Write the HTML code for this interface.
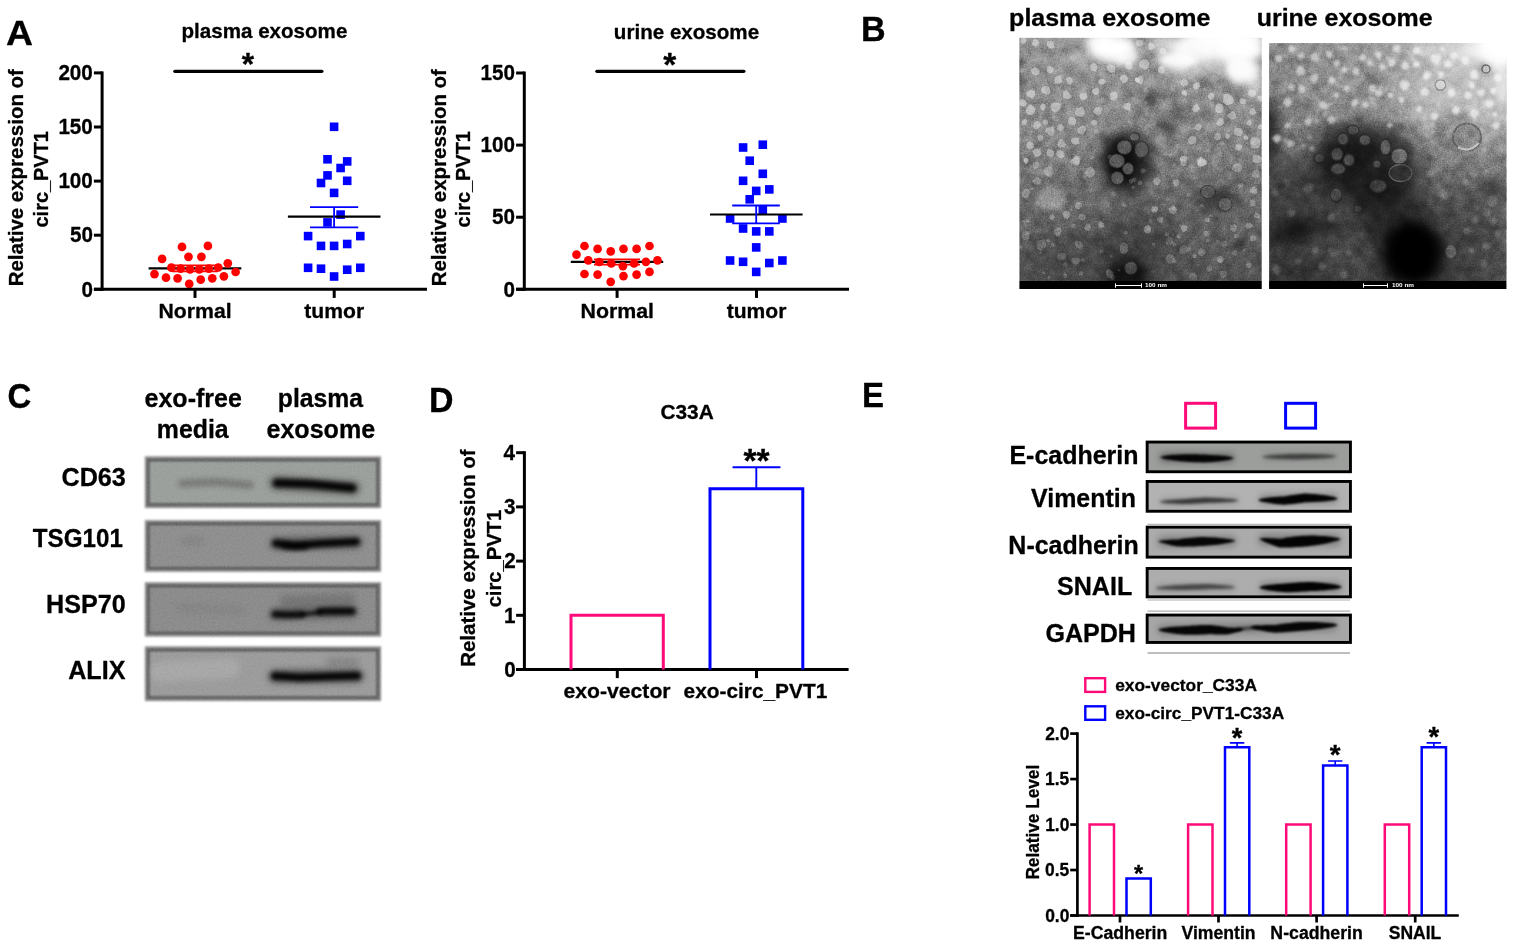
<!DOCTYPE html>
<html lang="en"><head><meta charset="utf-8"><title>Figure</title>
<style>
html,body{margin:0;padding:0;background:#fff;}
body{width:1515px;height:948px;overflow:hidden;position:relative;}
svg{position:absolute;left:0;top:0;display:block;font-family:'Liberation Sans', sans-serif;font-weight:bold;}
svg text{stroke-linejoin:round;}
</style></head><body>
<svg width="1515" height="948" viewBox="0 0 1515 948">
<defs>
<filter id="bl1" color-interpolation-filters="sRGB" x="-50%" y="-50%" width="200%" height="200%"><feGaussianBlur stdDeviation="0.55"/></filter>
<filter id="bl2" color-interpolation-filters="sRGB" x="-50%" y="-50%" width="200%" height="200%"><feGaussianBlur stdDeviation="2"/></filter>
<filter id="bl2.5" color-interpolation-filters="sRGB" x="-50%" y="-50%" width="200%" height="200%"><feGaussianBlur stdDeviation="2.5"/></filter>
<filter id="bl3" color-interpolation-filters="sRGB" x="-50%" y="-50%" width="200%" height="200%"><feGaussianBlur stdDeviation="3"/></filter>
<filter id="bl4" color-interpolation-filters="sRGB" x="-50%" y="-50%" width="200%" height="200%"><feGaussianBlur stdDeviation="4"/></filter>
<filter id="bl5" color-interpolation-filters="sRGB" x="-50%" y="-50%" width="200%" height="200%"><feGaussianBlur stdDeviation="5"/></filter>
<filter id="bl6" color-interpolation-filters="sRGB" x="-50%" y="-50%" width="200%" height="200%"><feGaussianBlur stdDeviation="6"/></filter>
<filter id="bl7" color-interpolation-filters="sRGB" x="-50%" y="-50%" width="200%" height="200%"><feGaussianBlur stdDeviation="7"/></filter>
<filter id="bl8" color-interpolation-filters="sRGB" x="-50%" y="-50%" width="200%" height="200%"><feGaussianBlur stdDeviation="8"/></filter>
<filter id="bl9" color-interpolation-filters="sRGB" x="-50%" y="-50%" width="200%" height="200%"><feGaussianBlur stdDeviation="9"/></filter>
<filter id="bl10" color-interpolation-filters="sRGB" x="-50%" y="-50%" width="200%" height="200%"><feGaussianBlur stdDeviation="10"/></filter>
<filter id="bl12" color-interpolation-filters="sRGB" x="-50%" y="-50%" width="200%" height="200%"><feGaussianBlur stdDeviation="12"/></filter>
<filter id="blU" color-interpolation-filters="sRGB" x="-5%" y="-5%" width="110%" height="110%"><feGaussianBlur stdDeviation="1.25"/></filter>
<filter id="noise" color-interpolation-filters="sRGB" x="0" y="0" width="100%" height="100%"><feTurbulence type="fractalNoise" baseFrequency="0.7" numOctaves="2" seed="3" result="t"/><feColorMatrix type="matrix" values="1 0 0 0 0  1 0 0 0 0  1 0 0 0 0  0 0 0 0 1"/></filter>
<filter id="noiseD" color-interpolation-filters="sRGB" x="0" y="0" width="100%" height="100%"><feTurbulence type="fractalNoise" baseFrequency="0.55" numOctaves="2" seed="8" result="t"/><feColorMatrix type="matrix" values="0 0 0 0 0  0 0 0 0 0  0 0 0 0 0  1.6 0 0 0 -0.6"/></filter>
<filter id="mott" color-interpolation-filters="sRGB" x="0" y="0" width="100%" height="100%"><feTurbulence type="fractalNoise" baseFrequency="0.09" numOctaves="3" seed="21"/><feColorMatrix type="matrix" values="1.2 0 0 0 -0.1  1.2 0 0 0 -0.1  1.2 0 0 0 -0.1  0 0 0 0 1"/></filter>
<filter id="noiseC" color-interpolation-filters="sRGB" x="0" y="0" width="100%" height="100%"><feTurbulence type="fractalNoise" baseFrequency="0.5" numOctaves="2" seed="5"/><feColorMatrix type="matrix" values="1 0 0 0 0  1 0 0 0 0  1 0 0 0 0  0 0 0 0 1"/></filter>
</defs>
<text x="6.12" y="45.20" font-size="35" textLength="26.95" lengthAdjust="spacingAndGlyphs" fill="#000" stroke="#000" stroke-width="0.3">A</text>
<text x="861.05" y="41.20" font-size="35" textLength="24.63" lengthAdjust="spacingAndGlyphs" fill="#000" stroke="#000" stroke-width="0.3">B</text>
<text x="7.43" y="407.50" font-size="35" textLength="23.82" lengthAdjust="spacingAndGlyphs" fill="#000" stroke="#000" stroke-width="0.3">C</text>
<text x="429.06" y="412.20" font-size="35" textLength="24.52" lengthAdjust="spacingAndGlyphs" fill="#000" stroke="#000" stroke-width="0.3">D</text>
<text x="862.12" y="407.00" font-size="35" textLength="22.03" lengthAdjust="spacingAndGlyphs" fill="#000" stroke="#000" stroke-width="0.3">E</text>
<line x1="148.6" y1="268.3" x2="241.3" y2="268.3" stroke="#000" stroke-width="2.2" stroke-linecap="butt"/>
<line x1="172" y1="265.3" x2="218" y2="265.3" stroke="#ff0000" stroke-width="1.8" stroke-linecap="butt"/>
<line x1="172" y1="271.3" x2="218" y2="271.3" stroke="#ff0000" stroke-width="1.8" stroke-linecap="butt"/>
<circle cx="182" cy="246.9" r="4.35" fill="#ff0000"/>
<circle cx="207.9" cy="245.9" r="4.35" fill="#ff0000"/>
<circle cx="162.1" cy="258.9" r="4.35" fill="#ff0000"/>
<circle cx="188.5" cy="256.8" r="4.35" fill="#ff0000"/>
<circle cx="201.4" cy="256.8" r="4.35" fill="#ff0000"/>
<circle cx="227.8" cy="263.3" r="4.35" fill="#ff0000"/>
<circle cx="171.4" cy="267.7" r="4.35" fill="#ff0000"/>
<circle cx="180.7" cy="268.6" r="4.35" fill="#ff0000"/>
<circle cx="190" cy="269.4" r="4.35" fill="#ff0000"/>
<circle cx="199.3" cy="269.4" r="4.35" fill="#ff0000"/>
<circle cx="208.8" cy="268.6" r="4.35" fill="#ff0000"/>
<circle cx="218.3" cy="267.5" r="4.35" fill="#ff0000"/>
<circle cx="235.6" cy="272" r="4.35" fill="#ff0000"/>
<circle cx="154.5" cy="274.1" r="4.35" fill="#ff0000"/>
<circle cx="166" cy="277.7" r="4.35" fill="#ff0000"/>
<circle cx="177.6" cy="278.3" r="4.35" fill="#ff0000"/>
<circle cx="189.2" cy="283.9" r="4.35" fill="#ff0000"/>
<circle cx="200.7" cy="279.7" r="4.35" fill="#ff0000"/>
<circle cx="212.3" cy="278.3" r="4.35" fill="#ff0000"/>
<circle cx="223.9" cy="276.3" r="4.35" fill="#ff0000"/>
<rect x="329.8" y="122.5" width="8.6" height="8.6" fill="#0000ff"/>
<rect x="323.2" y="155.0" width="8.6" height="8.6" fill="#0000ff"/>
<rect x="342.9" y="157.1" width="8.6" height="8.6" fill="#0000ff"/>
<rect x="336.3" y="163.7" width="8.6" height="8.6" fill="#0000ff"/>
<rect x="323.2" y="171.1" width="8.6" height="8.6" fill="#0000ff"/>
<rect x="316.7" y="178.7" width="8.6" height="8.6" fill="#0000ff"/>
<rect x="342.9" y="176.5" width="8.6" height="8.6" fill="#0000ff"/>
<rect x="329.8" y="188.6" width="8.6" height="8.6" fill="#0000ff"/>
<rect x="336.3" y="210.29999999999998" width="8.6" height="8.6" fill="#0000ff"/>
<rect x="323.2" y="218.1" width="8.6" height="8.6" fill="#0000ff"/>
<rect x="303.8" y="231.79999999999998" width="8.6" height="8.6" fill="#0000ff"/>
<rect x="356.0" y="231.79999999999998" width="8.6" height="8.6" fill="#0000ff"/>
<rect x="316.7" y="241.6" width="8.6" height="8.6" fill="#0000ff"/>
<rect x="329.8" y="241.6" width="8.6" height="8.6" fill="#0000ff"/>
<rect x="342.9" y="239.7" width="8.6" height="8.6" fill="#0000ff"/>
<rect x="303.8" y="263.5" width="8.6" height="8.6" fill="#0000ff"/>
<rect x="316.7" y="264.4" width="8.6" height="8.6" fill="#0000ff"/>
<rect x="329.8" y="272.2" width="8.6" height="8.6" fill="#0000ff"/>
<rect x="342.9" y="265.4" width="8.6" height="8.6" fill="#0000ff"/>
<rect x="356.0" y="263.5" width="8.6" height="8.6" fill="#0000ff"/>
<line x1="287.9" y1="216.7" x2="380.5" y2="216.7" stroke="#000" stroke-width="2.2" stroke-linecap="butt"/>
<line x1="310" y1="207.2" x2="358.2" y2="207.2" stroke="#0000ff" stroke-width="1.8" stroke-linecap="butt"/>
<line x1="310" y1="227.3" x2="358.2" y2="227.3" stroke="#0000ff" stroke-width="1.8" stroke-linecap="butt"/>
<line x1="334.1" y1="207.2" x2="334.1" y2="227.3" stroke="#0000ff" stroke-width="1.8" stroke-linecap="butt"/>
<line x1="102.1" y1="71.4" x2="102.1" y2="290.8" stroke="#000" stroke-width="3.0" stroke-linecap="butt"/>
<line x1="93.89999999999999" y1="289.3" x2="427" y2="289.3" stroke="#000" stroke-width="3.0" stroke-linecap="butt"/>
<line x1="93.89999999999999" y1="289.3" x2="102.1" y2="289.3" stroke="#000" stroke-width="3.0" stroke-linecap="butt"/>
<text x="81.40" y="296.56" font-size="22" textLength="11.50" lengthAdjust="spacingAndGlyphs" fill="#000" stroke="#000" stroke-width="0.3">0</text>
<line x1="93.89999999999999" y1="235.20000000000002" x2="102.1" y2="235.20000000000002" stroke="#000" stroke-width="3.0" stroke-linecap="butt"/>
<text x="69.92" y="242.46" font-size="22" textLength="23.00" lengthAdjust="spacingAndGlyphs" fill="#000" stroke="#000" stroke-width="0.3">50</text>
<line x1="93.89999999999999" y1="181.10000000000002" x2="102.1" y2="181.10000000000002" stroke="#000" stroke-width="3.0" stroke-linecap="butt"/>
<text x="58.39" y="188.36" font-size="22" textLength="34.50" lengthAdjust="spacingAndGlyphs" fill="#000" stroke="#000" stroke-width="0.3">100</text>
<line x1="93.89999999999999" y1="127.0" x2="102.1" y2="127.0" stroke="#000" stroke-width="3.0" stroke-linecap="butt"/>
<text x="58.39" y="134.26" font-size="22" textLength="34.50" lengthAdjust="spacingAndGlyphs" fill="#000" stroke="#000" stroke-width="0.3">150</text>
<line x1="93.89999999999999" y1="72.9" x2="102.1" y2="72.9" stroke="#000" stroke-width="3.0" stroke-linecap="butt"/>
<text x="58.39" y="80.16" font-size="22" textLength="34.50" lengthAdjust="spacingAndGlyphs" fill="#000" stroke="#000" stroke-width="0.3">200</text>
<line x1="195" y1="289.3" x2="195" y2="297.90000000000003" stroke="#000" stroke-width="3.0" stroke-linecap="butt"/>
<line x1="334.2" y1="289.3" x2="334.2" y2="297.90000000000003" stroke="#000" stroke-width="3.0" stroke-linecap="butt"/>
<text x="158.52" y="317.70" font-size="21" textLength="73.13" lengthAdjust="spacingAndGlyphs" fill="#000" stroke="#000" stroke-width="0.3">Normal</text>
<text x="304.29" y="317.70" font-size="21" textLength="59.84" lengthAdjust="spacingAndGlyphs" fill="#000" stroke="#000" stroke-width="0.3">tumor</text>
<text x="181.51" y="38.10" font-size="21" textLength="165.85" lengthAdjust="spacingAndGlyphs" fill="#000" stroke="#000" stroke-width="0.3">plasma exosome</text>
<text x="241.82" y="74.73" font-size="31.68" fill="#000" stroke="#000" stroke-width="0.3">*</text>
<line x1="174.79999999999998" y1="71.3" x2="321.9" y2="71.3" stroke="#000" stroke-width="3.2" stroke-linecap="round"/>
<text x="23.25" y="286.33" font-size="21" textLength="217.24" lengthAdjust="spacingAndGlyphs" fill="#000" stroke="#000" stroke-width="0.3" transform="rotate(-90 23.25 286.33)">Relative expression of</text>
<text x="47.95" y="227.45" font-size="21" textLength="96.38" lengthAdjust="spacingAndGlyphs" fill="#000" stroke="#000" stroke-width="0.3" transform="rotate(-90 47.95 227.45)">circ_PVT1</text>
<line x1="570.8" y1="261.8" x2="663.2" y2="261.8" stroke="#000" stroke-width="2.2" stroke-linecap="butt"/>
<line x1="594" y1="259.3" x2="640" y2="259.3" stroke="#ff0000" stroke-width="1.8" stroke-linecap="butt"/>
<line x1="594" y1="264.6" x2="640" y2="264.6" stroke="#ff0000" stroke-width="1.8" stroke-linecap="butt"/>
<circle cx="584.5" cy="246" r="4.35" fill="#ff0000"/>
<circle cx="576.5" cy="254.6" r="4.35" fill="#ff0000"/>
<circle cx="597.6" cy="248.9" r="4.35" fill="#ff0000"/>
<circle cx="610.7" cy="251.4" r="4.35" fill="#ff0000"/>
<circle cx="623.5" cy="248.9" r="4.35" fill="#ff0000"/>
<circle cx="636.6" cy="248.9" r="4.35" fill="#ff0000"/>
<circle cx="588.3" cy="260.3" r="4.35" fill="#ff0000"/>
<circle cx="599.3" cy="262" r="4.35" fill="#ff0000"/>
<circle cx="611.3" cy="263.5" r="4.35" fill="#ff0000"/>
<circle cx="622.9" cy="266.2" r="4.35" fill="#ff0000"/>
<circle cx="634.1" cy="263.5" r="4.35" fill="#ff0000"/>
<circle cx="584.5" cy="274" r="4.35" fill="#ff0000"/>
<circle cx="597.6" cy="274.6" r="4.35" fill="#ff0000"/>
<circle cx="610.7" cy="281.8" r="4.35" fill="#ff0000"/>
<circle cx="623.5" cy="276.1" r="4.35" fill="#ff0000"/>
<circle cx="636.6" cy="274.6" r="4.35" fill="#ff0000"/>
<circle cx="649.5" cy="246" r="4.35" fill="#ff0000"/>
<circle cx="645.9" cy="261.8" r="4.35" fill="#ff0000"/>
<circle cx="657.5" cy="260.3" r="4.35" fill="#ff0000"/>
<circle cx="649.5" cy="271.9" r="4.35" fill="#ff0000"/>
<rect x="738.8000000000001" y="143.2" width="8.6" height="8.6" fill="#0000ff"/>
<rect x="758.5" y="140.39999999999998" width="8.6" height="8.6" fill="#0000ff"/>
<rect x="745.4000000000001" y="156.39999999999998" width="8.6" height="8.6" fill="#0000ff"/>
<rect x="758.5" y="169.5" width="8.6" height="8.6" fill="#0000ff"/>
<rect x="738.8000000000001" y="176.5" width="8.6" height="8.6" fill="#0000ff"/>
<rect x="751.9000000000001" y="186.6" width="8.6" height="8.6" fill="#0000ff"/>
<rect x="765.0" y="185.1" width="8.6" height="8.6" fill="#0000ff"/>
<rect x="745.4000000000001" y="195.0" width="8.6" height="8.6" fill="#0000ff"/>
<rect x="758.5" y="205.6" width="8.6" height="8.6" fill="#0000ff"/>
<rect x="725.8000000000001" y="214.2" width="8.6" height="8.6" fill="#0000ff"/>
<rect x="778.1" y="214.2" width="8.6" height="8.6" fill="#0000ff"/>
<rect x="738.8000000000001" y="224.2" width="8.6" height="8.6" fill="#0000ff"/>
<rect x="751.9000000000001" y="227.1" width="8.6" height="8.6" fill="#0000ff"/>
<rect x="765.0" y="227.1" width="8.6" height="8.6" fill="#0000ff"/>
<rect x="751.9000000000001" y="243.1" width="8.6" height="8.6" fill="#0000ff"/>
<rect x="725.8000000000001" y="256.2" width="8.6" height="8.6" fill="#0000ff"/>
<rect x="738.8000000000001" y="257.5" width="8.6" height="8.6" fill="#0000ff"/>
<rect x="765.0" y="258.7" width="8.6" height="8.6" fill="#0000ff"/>
<rect x="778.1" y="256.2" width="8.6" height="8.6" fill="#0000ff"/>
<rect x="751.9000000000001" y="267.59999999999997" width="8.6" height="8.6" fill="#0000ff"/>
<line x1="710" y1="214.5" x2="802.6" y2="214.5" stroke="#000" stroke-width="2.2" stroke-linecap="butt"/>
<line x1="732.2" y1="205.5" x2="779.8" y2="205.5" stroke="#0000ff" stroke-width="1.8" stroke-linecap="butt"/>
<line x1="732.2" y1="223.4" x2="779.8" y2="223.4" stroke="#0000ff" stroke-width="1.8" stroke-linecap="butt"/>
<line x1="756.2" y1="205.5" x2="756.2" y2="223.4" stroke="#0000ff" stroke-width="1.8" stroke-linecap="butt"/>
<line x1="524.3" y1="71.5" x2="524.3" y2="290.8" stroke="#000" stroke-width="3.0" stroke-linecap="butt"/>
<line x1="516.0999999999999" y1="289.3" x2="849" y2="289.3" stroke="#000" stroke-width="3.0" stroke-linecap="butt"/>
<line x1="516.0999999999999" y1="289.3" x2="524.3" y2="289.3" stroke="#000" stroke-width="3.0" stroke-linecap="butt"/>
<text x="503.60" y="296.56" font-size="22" textLength="11.50" lengthAdjust="spacingAndGlyphs" fill="#000" stroke="#000" stroke-width="0.3">0</text>
<line x1="516.0999999999999" y1="217.2" x2="524.3" y2="217.2" stroke="#000" stroke-width="3.0" stroke-linecap="butt"/>
<text x="492.12" y="224.46" font-size="22" textLength="23.00" lengthAdjust="spacingAndGlyphs" fill="#000" stroke="#000" stroke-width="0.3">50</text>
<line x1="516.0999999999999" y1="145.1" x2="524.3" y2="145.1" stroke="#000" stroke-width="3.0" stroke-linecap="butt"/>
<text x="480.59" y="152.36" font-size="22" textLength="34.50" lengthAdjust="spacingAndGlyphs" fill="#000" stroke="#000" stroke-width="0.3">100</text>
<line x1="516.0999999999999" y1="72.99999999999997" x2="524.3" y2="72.99999999999997" stroke="#000" stroke-width="3.0" stroke-linecap="butt"/>
<text x="480.59" y="80.26" font-size="22" textLength="34.50" lengthAdjust="spacingAndGlyphs" fill="#000" stroke="#000" stroke-width="0.3">150</text>
<line x1="617.1" y1="289.3" x2="617.1" y2="297.90000000000003" stroke="#000" stroke-width="3.0" stroke-linecap="butt"/>
<line x1="756.5" y1="289.3" x2="756.5" y2="297.90000000000003" stroke="#000" stroke-width="3.0" stroke-linecap="butt"/>
<text x="580.51" y="317.70" font-size="21" textLength="73.54" lengthAdjust="spacingAndGlyphs" fill="#000" stroke="#000" stroke-width="0.3">Normal</text>
<text x="726.69" y="317.70" font-size="21" textLength="59.64" lengthAdjust="spacingAndGlyphs" fill="#000" stroke="#000" stroke-width="0.3">tumor</text>
<text x="613.86" y="38.50" font-size="21" textLength="145.27" lengthAdjust="spacingAndGlyphs" fill="#000" stroke="#000" stroke-width="0.3">urine exosome</text>
<text x="663.21" y="75.84" font-size="33.29" fill="#000" stroke="#000" stroke-width="0.3">*</text>
<line x1="596.9" y1="71.3" x2="743.9" y2="71.3" stroke="#000" stroke-width="3.2" stroke-linecap="round"/>
<text x="445.75" y="286.33" font-size="21" textLength="217.24" lengthAdjust="spacingAndGlyphs" fill="#000" stroke="#000" stroke-width="0.3" transform="rotate(-90 445.75 286.33)">Relative expression of</text>
<text x="470.25" y="227.45" font-size="21" textLength="96.38" lengthAdjust="spacingAndGlyphs" fill="#000" stroke="#000" stroke-width="0.3" transform="rotate(-90 470.25 227.45)">circ_PVT1</text>
<text x="1009.13" y="25.90" font-size="24" textLength="201.29" lengthAdjust="spacingAndGlyphs" fill="#000" stroke="#000" stroke-width="0.3">plasma exosome</text>
<text x="1256.79" y="25.90" font-size="24" textLength="175.79" lengthAdjust="spacingAndGlyphs" fill="#000" stroke="#000" stroke-width="0.3">urine exosome</text>
<defs><clipPath id="cpP"><rect x="1019.3" y="37.8" width="242.5" height="251.09999999999997"/></clipPath><linearGradient id="gP" x1="0" y1="0" x2="0" y2="1"><stop offset="0" stop-color="#949494"/><stop offset="0.35" stop-color="#878787"/><stop offset="0.6" stop-color="#6c6c6c"/><stop offset="1" stop-color="#4c4c4c"/></linearGradient></defs>
<g clip-path="url(#cpP)">
<rect x="1019.3" y="37.8" width="242.5" height="251.09999999999997" fill="url(#gP)"/>
<ellipse cx="1127" cy="162" rx="25" ry="31" fill="#000" opacity="0.72" filter="url(#bl7)"/>
<ellipse cx="1120" cy="160" rx="16" ry="22" fill="#000" opacity="0.6" filter="url(#bl5)"/>
<ellipse cx="1128" cy="277" rx="22" ry="20" fill="#000" opacity="0.75" filter="url(#bl7)"/>
<ellipse cx="1152" cy="100" rx="10" ry="9" fill="#000" opacity="0.35" filter="url(#bl4)"/>
<ellipse cx="1180" cy="112" rx="9" ry="8" fill="#000" opacity="0.35" filter="url(#bl4)"/>
<ellipse cx="1166" cy="127" rx="9" ry="8" fill="#000" opacity="0.4" filter="url(#bl4)"/>
<ellipse cx="1204" cy="80" rx="8" ry="7" fill="#000" opacity="0.3" filter="url(#bl3)"/>
<ellipse cx="1216" cy="199" rx="20" ry="13" fill="#000" opacity="0.4" filter="url(#bl5)"/>
<ellipse cx="1240" cy="243" rx="7" ry="5" fill="#000" opacity="0.35" filter="url(#bl3)"/>
<ellipse cx="1140" cy="240" rx="40" ry="30" fill="#000" opacity="0.25" filter="url(#bl12)"/>
<ellipse cx="1019" cy="75" rx="5" ry="20" fill="#000" opacity="0.3" filter="url(#bl3)"/>
<ellipse cx="1075" cy="255" rx="50" ry="25" fill="#000" opacity="0.15" filter="url(#bl10)"/>
<ellipse cx="1112" cy="48" rx="24" ry="14" fill="#fff" opacity="1" filter="url(#bl4)"/>
<ellipse cx="1100" cy="42" rx="14" ry="8" fill="#fff" opacity="0.8" filter="url(#bl3)"/>
<ellipse cx="1127" cy="58" rx="12" ry="8" fill="#fff" opacity="0.8" filter="url(#bl3)"/>
<ellipse cx="1080" cy="58" rx="10" ry="7" fill="#fff" opacity="0.35" filter="url(#bl3)"/>
<ellipse cx="1178" cy="60" rx="20" ry="9" fill="#fff" opacity="0.95" filter="url(#bl3)"/>
<ellipse cx="1205" cy="46" rx="30" ry="12" fill="#fff" opacity="0.9" filter="url(#bl4)"/>
<ellipse cx="1240" cy="48" rx="24" ry="14" fill="#fff" opacity="1" filter="url(#bl4)"/>
<ellipse cx="1240" cy="68" rx="16" ry="12" fill="#fff" opacity="0.95" filter="url(#bl3)"/>
<ellipse cx="1225" cy="40" rx="40" ry="6" fill="#fff" opacity="1" filter="url(#bl3)"/>
<ellipse cx="1215" cy="52" rx="45" ry="12" fill="#fff" opacity="0.7" filter="url(#bl5)"/>
<ellipse cx="1243" cy="75" rx="14" ry="10" fill="#fff" opacity="0.7" filter="url(#bl3)"/>
<ellipse cx="1170" cy="45" rx="20" ry="8" fill="#fff" opacity="0.6" filter="url(#bl4)"/>
<ellipse cx="1255" cy="80" rx="8" ry="18" fill="#fff" opacity="0.5" filter="url(#bl3)"/>
<ellipse cx="1195" cy="70" rx="30" ry="10" fill="#fff" opacity="0.4" filter="url(#bl5)"/>
<ellipse cx="1051.5" cy="198.5" rx="13" ry="11.5" fill="#fff" opacity="0.3" filter="url(#bl2.5)"/>
<g filter="url(#bl1)">
<path d="M1034.1 45.8 L1031.7 44.5 L1032.5 41.9 L1033.4 39.4 L1036.1 39.1 L1038.0 40.6 L1039.6 42.6 L1038.2 44.7 L1036.5 46.6Z" fill="#fff" opacity="0.42"/>
<path d="M1025.9 41.8 L1024.8 43.4 L1022.6 44.1 L1021.4 42.2 L1020.8 40.4 L1021.2 38.3 L1023.2 36.9 L1025.4 38.0 L1026.4 39.9Z" fill="#fff" opacity="0.42"/>
<path d="M1054.0 44.4 L1054.8 47.5 L1051.8 48.6 L1049.3 48.3 L1047.5 46.7 L1046.7 44.2 L1047.5 41.2 L1050.7 41.3 L1053.5 41.6Z" fill="#fff" opacity="0.42"/>
<path d="M1091.4 63.9 L1094.0 62.7 L1096.2 64.4 L1097.4 66.4 L1097.2 68.9 L1095.6 71.4 L1092.6 70.9 L1090.6 69.0 L1089.6 66.3Z" fill="#fff" opacity="0.42"/>
<path d="M1107.4 69.6 L1106.7 66.6 L1109.0 64.3 L1112.0 64.8 L1114.6 65.8 L1115.4 68.7 L1114.7 71.8 L1111.7 73.1 L1109.0 71.7Z" fill="#fff" opacity="0.42"/>
<path d="M1132.4 65.1 L1132.4 67.8 L1130.3 70.1 L1127.5 68.9 L1125.1 67.5 L1125.6 64.8 L1126.1 61.9 L1129.1 60.8 L1131.9 62.4Z" fill="#fff" opacity="0.42"/>
<path d="M1038.2 68.7 L1039.9 70.9 L1039.0 73.7 L1036.7 75.3 L1034.0 74.8 L1031.5 73.2 L1031.0 70.1 L1033.4 68.1 L1036.0 67.0Z" fill="#fff" opacity="0.42"/>
<path d="M1053.8 70.6 L1051.9 72.5 L1049.3 73.4 L1047.0 71.7 L1046.9 69.1 L1047.6 66.9 L1049.6 65.4 L1051.6 66.8 L1053.5 68.1Z" fill="#fff" opacity="0.42"/>
<path d="M1060.0 83.4 L1057.5 83.7 L1054.2 83.4 L1054.3 80.1 L1055.0 77.5 L1057.4 75.8 L1060.8 75.6 L1061.6 78.9 L1062.3 81.7Z" fill="#fff" opacity="0.42"/>
<path d="M1065.8 79.3 L1067.6 77.1 L1070.4 76.5 L1072.2 78.4 L1073.2 80.4 L1072.4 82.6 L1070.7 84.6 L1067.8 84.3 L1067.0 81.7Z" fill="#fff" opacity="0.42"/>
<path d="M1103.2 84.4 L1101.1 84.6 L1099.0 83.7 L1098.1 81.3 L1099.5 79.4 L1101.5 78.8 L1103.7 78.7 L1105.1 80.6 L1105.2 83.0Z" fill="#fff" opacity="0.42"/>
<path d="M1128.0 77.9 L1127.6 80.7 L1125.8 82.9 L1122.9 83.3 L1121.4 81.1 L1119.2 78.9 L1120.6 76.1 L1123.3 74.5 L1126.4 75.3Z" fill="#fff" opacity="0.42"/>
<path d="M1135.3 81.8 L1135.1 80.1 L1135.2 78.1 L1137.1 77.8 L1138.6 78.1 L1139.8 79.3 L1139.7 81.0 L1138.7 82.4 L1137.0 82.4Z" fill="#fff" opacity="0.42"/>
<path d="M1035.3 94.1 L1034.3 96.6 L1032.1 98.4 L1029.5 97.3 L1026.2 95.9 L1026.7 92.4 L1029.4 90.6 L1032.1 90.0 L1034.7 91.3Z" fill="#fff" opacity="0.42"/>
<path d="M1044.0 93.5 L1041.2 91.4 L1041.7 87.6 L1045.1 86.1 L1048.3 86.2 L1050.0 88.7 L1050.4 91.3 L1049.3 93.9 L1046.5 94.7Z" fill="#fff" opacity="0.42"/>
<path d="M1068.5 91.8 L1070.0 93.9 L1071.9 96.9 L1069.1 99.1 L1066.1 99.0 L1063.2 98.3 L1063.1 95.3 L1063.0 92.4 L1065.5 89.8Z" fill="#fff" opacity="0.42"/>
<path d="M1086.6 92.9 L1087.3 95.6 L1087.0 98.1 L1084.9 99.4 L1082.2 100.4 L1080.2 98.2 L1079.4 95.4 L1081.4 93.4 L1083.8 92.7Z" fill="#fff" opacity="0.42"/>
<path d="M1097.1 87.2 L1099.1 89.3 L1099.4 92.1 L1097.9 94.4 L1095.3 95.2 L1093.3 93.6 L1091.9 91.7 L1092.6 89.5 L1094.6 88.5Z" fill="#fff" opacity="0.42"/>
<path d="M1117.5 96.8 L1116.2 98.9 L1113.9 100.5 L1110.9 99.9 L1110.1 96.9 L1109.8 93.8 L1112.3 91.7 L1115.6 91.7 L1117.2 94.3Z" fill="#fff" opacity="0.42"/>
<path d="M1023.4 106.4 L1021.3 106.0 L1019.9 104.4 L1019.3 102.1 L1020.7 99.7 L1023.5 99.3 L1025.5 101.0 L1026.6 103.3 L1025.9 105.9Z" fill="#fff" opacity="0.42"/>
<path d="M1034.7 112.3 L1032.2 115.0 L1028.5 114.7 L1025.8 112.3 L1025.8 108.9 L1027.8 106.6 L1030.4 104.4 L1033.2 106.4 L1035.6 108.9Z" fill="#fff" opacity="0.42"/>
<path d="M1045.7 106.4 L1045.4 108.4 L1044.1 110.4 L1041.6 110.1 L1040.4 108.2 L1040.2 106.5 L1041.0 104.9 L1042.7 103.2 L1045.0 104.2Z" fill="#fff" opacity="0.42"/>
<path d="M1058.7 111.0 L1055.0 112.5 L1051.7 110.4 L1050.7 107.1 L1051.0 103.7 L1054.0 102.5 L1056.8 102.8 L1060.6 103.7 L1060.5 107.6Z" fill="#fff" opacity="0.42"/>
<path d="M1074.6 111.6 L1077.3 108.9 L1080.4 106.8 L1084.1 108.2 L1084.8 111.8 L1084.3 114.8 L1082.1 116.8 L1079.0 116.7 L1076.0 115.2Z" fill="#fff" opacity="0.37"/>
<path d="M1097.3 115.3 L1095.1 113.8 L1092.6 111.7 L1094.2 109.0 L1096.4 107.1 L1099.3 107.1 L1102.1 108.9 L1101.6 112.1 L1100.6 115.2Z" fill="#fff" opacity="0.37"/>
<path d="M1123.1 106.1 L1124.2 103.4 L1126.9 102.9 L1129.6 102.6 L1130.9 105.0 L1130.6 107.3 L1129.9 110.4 L1126.8 109.8 L1124.2 108.9Z" fill="#fff" opacity="0.42"/>
<path d="M1071.2 116.8 L1074.0 117.7 L1076.0 119.7 L1076.0 122.7 L1074.3 125.3 L1071.3 124.6 L1068.5 123.9 L1068.1 121.1 L1069.0 118.6Z" fill="#fff" opacity="0.37"/>
<path d="M1094.4 119.7 L1096.2 120.6 L1097.2 122.4 L1096.7 124.6 L1094.6 125.3 L1092.6 125.2 L1091.4 123.6 L1091.3 121.7 L1092.4 119.9Z" fill="#fff" opacity="0.37"/>
<path d="M1033.3 126.5 L1033.5 124.0 L1034.8 121.6 L1037.6 121.6 L1040.1 122.9 L1041.0 125.6 L1039.1 127.6 L1037.2 129.0 L1034.5 129.0Z" fill="#fff" opacity="0.37"/>
<path d="M1046.9 120.5 L1047.9 121.8 L1048.2 123.6 L1046.7 124.6 L1045.1 125.0 L1043.8 124.0 L1042.5 122.4 L1043.2 120.4 L1045.1 119.2Z" fill="#fff" opacity="0.37"/>
<path d="M1053.1 135.2 L1049.8 136.0 L1047.6 133.8 L1045.0 131.5 L1045.8 127.9 L1049.3 127.2 L1052.7 126.2 L1054.3 129.3 L1054.7 132.3Z" fill="#fff" opacity="0.37"/>
<path d="M1064.6 127.3 L1063.0 129.3 L1061.4 130.9 L1059.0 130.8 L1057.5 128.9 L1057.6 126.7 L1058.7 124.8 L1061.0 123.7 L1062.6 125.6Z" fill="#fff" opacity="0.37"/>
<path d="M1078.0 128.3 L1080.2 126.8 L1082.5 125.8 L1085.3 126.7 L1086.2 129.6 L1084.6 131.9 L1082.9 134.8 L1079.5 133.9 L1077.1 131.5Z" fill="#fff" opacity="0.37"/>
<path d="M1026.5 124.3 L1024.8 125.0 L1022.6 125.7 L1021.6 123.6 L1021.7 121.8 L1022.6 120.0 L1024.7 118.9 L1026.9 120.1 L1027.0 122.4Z" fill="#fff" opacity="0.37"/>
<path d="M1064.3 147.3 L1061.0 147.6 L1058.0 146.6 L1057.8 143.6 L1058.4 141.3 L1060.0 138.8 L1062.9 139.4 L1064.4 141.7 L1066.2 144.4Z" fill="#fff" opacity="0.37"/>
<path d="M1072.5 137.7 L1075.4 137.8 L1078.4 137.4 L1078.7 140.4 L1079.6 143.3 L1076.9 144.7 L1074.3 144.6 L1072.0 143.2 L1070.8 140.4Z" fill="#fff" opacity="0.37"/>
<path d="M1029.5 148.9 L1026.8 148.3 L1026.2 145.6 L1027.1 143.2 L1029.1 141.8 L1031.5 142.3 L1033.3 143.8 L1033.7 146.4 L1032.1 148.6Z" fill="#fff" opacity="0.37"/>
<path d="M1040.8 135.0 L1043.1 135.6 L1043.6 137.9 L1043.4 140.0 L1041.4 140.9 L1039.4 141.1 L1038.1 139.5 L1036.8 137.3 L1038.4 135.3Z" fill="#fff" opacity="0.37"/>
<path d="M1038.6 156.4 L1035.5 157.3 L1034.1 154.3 L1032.2 151.8 L1034.3 149.4 L1036.9 148.2 L1040.1 148.6 L1041.0 151.6 L1040.8 154.5Z" fill="#fff" opacity="0.37"/>
<path d="M1048.0 148.7 L1051.0 149.6 L1053.7 150.7 L1054.2 153.7 L1052.7 156.3 L1050.0 157.0 L1047.6 156.1 L1046.7 153.9 L1046.9 151.6Z" fill="#fff" opacity="0.37"/>
<path d="M1064.8 156.6 L1062.1 158.1 L1059.6 158.1 L1057.7 156.6 L1055.7 154.1 L1057.1 151.1 L1060.2 150.0 L1062.8 151.4 L1064.2 153.6Z" fill="#fff" opacity="0.37"/>
<path d="M1075.1 164.3 L1073.2 162.3 L1072.1 159.9 L1073.5 157.6 L1075.8 155.2 L1079.2 156.1 L1080.4 159.2 L1079.6 161.9 L1078.3 165.0Z" fill="#fff" opacity="0.37"/>
<path d="M1024.6 163.0 L1023.5 161.5 L1022.8 159.7 L1023.7 157.9 L1025.7 157.2 L1027.5 158.2 L1028.8 159.8 L1027.8 161.6 L1026.6 162.9Z" fill="#fff" opacity="0.37"/>
<path d="M1142.5 45.6 L1140.2 46.6 L1138.1 46.4 L1136.0 45.2 L1135.8 42.8 L1136.7 40.3 L1139.4 39.5 L1142.3 40.3 L1143.5 43.0Z" fill="#fff" opacity="0.42"/>
<path d="M1150.5 42.3 L1152.9 43.4 L1154.4 45.1 L1155.5 47.7 L1153.0 48.9 L1150.9 50.3 L1148.6 48.9 L1148.5 46.5 L1148.1 43.9Z" fill="#fff" opacity="0.42"/>
<path d="M1165.3 49.3 L1166.2 51.4 L1165.5 53.7 L1163.2 54.0 L1161.1 54.1 L1159.8 52.4 L1159.4 50.1 L1161.0 48.3 L1163.4 47.8Z" fill="#fff" opacity="0.42"/>
<path d="M1139.5 61.7 L1143.0 59.4 L1147.0 59.4 L1149.1 62.5 L1149.2 65.6 L1147.9 68.4 L1145.0 70.0 L1142.1 68.3 L1138.8 66.0Z" fill="#fff" opacity="0.42"/>
<path d="M1157.8 68.5 L1159.5 66.6 L1162.1 66.1 L1164.1 67.6 L1164.1 69.9 L1164.4 72.5 L1162.0 73.8 L1159.5 72.9 L1157.9 71.1Z" fill="#fff" opacity="0.42"/>
<path d="M1138.1 76.9 L1140.6 75.2 L1142.8 77.3 L1143.5 79.7 L1143.0 82.2 L1141.0 84.4 L1138.3 83.1 L1135.6 81.7 L1135.0 78.3Z" fill="#fff" opacity="0.42"/>
<path d="M1180.4 83.6 L1181.0 81.0 L1183.2 79.2 L1186.2 79.5 L1188.0 81.8 L1188.2 84.7 L1185.9 86.1 L1183.7 86.7 L1181.5 85.8Z" fill="#fff" opacity="0.42"/>
<path d="M1196.8 81.9 L1199.4 82.3 L1200.0 84.9 L1199.8 87.0 L1198.3 88.8 L1195.7 89.6 L1193.3 87.9 L1192.7 85.0 L1194.5 82.9Z" fill="#fff" opacity="0.42"/>
<path d="M1181.3 92.4 L1182.2 90.6 L1184.0 90.3 L1186.1 90.0 L1186.5 92.1 L1187.2 94.2 L1185.5 95.8 L1183.5 94.8 L1181.8 94.2Z" fill="#fff" opacity="0.42"/>
<path d="M1213.0 92.3 L1214.3 94.8 L1214.3 97.0 L1213.0 98.8 L1210.8 100.5 L1209.0 98.4 L1207.5 96.5 L1208.7 94.5 L1210.3 92.7Z" fill="#fff" opacity="0.42"/>
<path d="M1232.8 97.7 L1234.3 101.6 L1230.9 104.2 L1226.8 105.6 L1223.3 102.8 L1223.3 98.8 L1223.4 94.5 L1227.6 93.5 L1230.7 95.3Z" fill="#fff" opacity="0.42"/>
<path d="M1256.0 93.5 L1254.9 96.1 L1252.4 97.2 L1249.9 96.4 L1248.0 94.6 L1248.1 91.9 L1249.4 89.1 L1252.4 90.1 L1255.5 90.4Z" fill="#fff" opacity="0.42"/>
<path d="M1243.9 99.0 L1246.1 100.1 L1245.7 102.5 L1244.3 104.5 L1241.9 104.0 L1240.2 103.0 L1239.5 101.1 L1239.7 98.7 L1242.1 98.0Z" fill="#fff" opacity="0.42"/>
<path d="M1193.1 111.3 L1192.0 109.0 L1192.8 106.7 L1194.4 105.2 L1197.1 104.0 L1198.6 106.5 L1200.2 109.1 L1197.8 111.0 L1195.5 111.9Z" fill="#fff" opacity="0.42"/>
<path d="M1215.3 108.1 L1216.1 105.5 L1218.5 103.2 L1221.8 104.2 L1223.7 107.0 L1223.2 110.2 L1221.2 112.9 L1217.8 113.3 L1215.5 110.9Z" fill="#fff" opacity="0.42"/>
<path d="M1231.2 112.1 L1234.1 111.3 L1235.7 113.9 L1236.3 117.0 L1234.2 119.3 L1231.2 119.3 L1229.3 117.7 L1226.8 115.5 L1229.1 113.2Z" fill="#fff" opacity="0.37"/>
<path d="M1249.2 112.5 L1249.7 110.3 L1251.1 108.2 L1254.0 107.8 L1255.2 110.3 L1256.2 112.5 L1254.6 114.4 L1252.5 115.5 L1250.3 114.5Z" fill="#fff" opacity="0.37"/>
<path d="M1222.1 125.5 L1219.8 126.0 L1216.8 125.6 L1216.5 122.6 L1217.8 120.3 L1219.6 117.9 L1222.9 118.4 L1224.1 121.2 L1223.6 123.7Z" fill="#fff" opacity="0.37"/>
<path d="M1249.8 125.5 L1248.1 125.8 L1246.9 124.5 L1246.4 122.9 L1247.3 121.4 L1248.9 120.3 L1251.0 120.7 L1252.0 122.7 L1251.3 124.6Z" fill="#fff" opacity="0.37"/>
<path d="M1195.3 128.7 L1195.0 126.3 L1196.2 124.3 L1198.3 124.0 L1200.4 124.3 L1202.6 126.0 L1201.0 128.3 L1199.7 130.2 L1197.2 130.4Z" fill="#fff" opacity="0.37"/>
<path d="M1241.5 128.8 L1243.0 131.1 L1242.5 133.9 L1240.4 135.9 L1237.4 136.0 L1234.2 134.5 L1233.8 130.9 L1235.6 127.7 L1239.0 128.2Z" fill="#fff" opacity="0.37"/>
<path d="M1260.4 144.4 L1258.6 148.2 L1254.5 148.6 L1250.9 147.4 L1250.4 143.8 L1250.2 140.5 L1252.6 137.1 L1256.9 137.5 L1260.1 140.2Z" fill="#fff" opacity="0.37"/>
<path d="M1196.4 139.7 L1195.7 142.1 L1193.9 143.8 L1191.2 144.4 L1188.7 142.7 L1187.6 139.5 L1189.7 136.8 L1192.7 135.8 L1195.7 136.7Z" fill="#fff" opacity="0.37"/>
<path d="M1234.7 148.5 L1235.7 146.3 L1236.5 143.9 L1239.0 144.4 L1241.7 145.0 L1242.0 147.8 L1240.6 149.8 L1238.5 150.5 L1236.4 150.1Z" fill="#fff" opacity="0.37"/>
<path d="M1253.2 154.8 L1256.7 154.7 L1259.3 155.7 L1261.7 157.9 L1261.3 161.4 L1258.5 163.3 L1255.3 163.0 L1252.3 161.6 L1252.9 158.3Z" fill="#fff" opacity="0.37"/>
<path d="M1200.6 165.7 L1197.6 164.4 L1197.4 161.1 L1198.6 158.0 L1201.8 157.5 L1204.3 158.8 L1205.7 161.0 L1206.4 164.2 L1203.6 166.1Z" fill="#fff" opacity="0.37"/>
<path d="M1182.4 161.5 L1180.3 160.6 L1179.7 158.2 L1181.2 156.2 L1183.5 155.7 L1185.9 156.0 L1187.6 158.2 L1186.1 160.5 L1184.4 161.6Z" fill="#fff" opacity="0.37"/>
<path d="M1215.8 139.7 L1213.9 138.0 L1214.7 135.7 L1215.7 133.3 L1218.4 133.0 L1220.4 134.6 L1220.7 136.9 L1220.8 139.7 L1218.1 140.0Z" fill="#fff" opacity="0.37"/>
<path d="M1228.5 134.0 L1229.6 135.1 L1230.3 136.8 L1228.9 138.0 L1227.3 139.2 L1225.8 137.9 L1225.4 136.3 L1225.7 134.8 L1226.9 133.7Z" fill="#fff" opacity="0.37"/>
<path d="M1244.5 134.9 L1246.4 135.4 L1247.9 135.9 L1248.3 137.5 L1248.5 139.5 L1246.5 139.6 L1245.1 139.3 L1244.1 138.2 L1243.8 136.7Z" fill="#fff" opacity="0.37"/>
<path d="M1263.0 96.4 L1263.5 98.5 L1262.9 100.7 L1260.7 101.7 L1258.9 100.6 L1258.0 99.1 L1257.2 97.0 L1258.9 95.5 L1260.8 96.2Z" fill="#fff" opacity="0.42"/>
<path d="M1259.1 124.8 L1260.7 124.4 L1262.1 125.3 L1262.5 126.8 L1261.9 128.1 L1260.8 129.1 L1259.2 128.9 L1257.4 127.9 L1258.3 126.1Z" fill="#fff" opacity="0.37"/>
<path d="M1038.7 164.3 L1038.6 166.5 L1037.2 168.7 L1034.4 168.9 L1032.7 166.9 L1032.8 164.6 L1033.2 162.4 L1035.5 161.6 L1038.2 161.6Z" fill="#fff" opacity="0.28"/>
<path d="M1027.3 163.9 L1025.3 164.6 L1024.4 162.6 L1023.7 161.0 L1024.3 159.0 L1026.3 158.2 L1027.8 159.7 L1028.6 161.0 L1028.4 162.6Z" fill="#fff" opacity="0.28"/>
<path d="M1078.8 159.6 L1080.1 162.3 L1078.7 165.3 L1075.4 165.4 L1073.0 164.3 L1070.4 162.2 L1071.7 159.1 L1074.3 157.8 L1077.2 157.1Z" fill="#fff" opacity="0.28"/>
<path d="M1046.6 176.2 L1044.9 173.8 L1043.1 170.8 L1045.0 167.3 L1048.8 166.8 L1052.6 167.8 L1052.4 171.7 L1052.1 174.6 L1049.8 176.8Z" fill="#fff" opacity="0.28"/>
<path d="M1041.7 180.1 L1040.5 182.9 L1038.6 184.6 L1036.1 185.1 L1033.8 183.7 L1032.3 181.0 L1034.6 179.0 L1036.6 176.9 L1039.5 177.7Z" fill="#fff" opacity="0.28"/>
<path d="M1027.9 188.9 L1030.0 191.5 L1029.7 194.6 L1028.0 196.9 L1025.2 197.7 L1022.0 197.0 L1022.0 193.7 L1022.5 191.1 L1024.4 188.5Z" fill="#fff" opacity="0.28"/>
<path d="M1078.4 209.2 L1076.6 208.5 L1074.8 207.0 L1075.5 204.7 L1076.8 202.3 L1079.7 202.3 L1082.1 204.0 L1081.5 206.8 L1080.3 208.5Z" fill="#fff" opacity="0.28"/>
<path d="M1069.5 217.1 L1067.4 219.0 L1064.6 218.4 L1063.1 216.3 L1062.5 213.8 L1063.8 211.4 L1066.6 210.5 L1069.4 211.7 L1070.8 214.4Z" fill="#fff" opacity="0.28"/>
<path d="M1050.7 214.7 L1052.6 213.4 L1054.2 215.1 L1055.2 216.9 L1054.3 218.8 L1052.7 220.4 L1050.7 219.3 L1049.4 218.0 L1049.4 216.0Z" fill="#fff" opacity="0.28"/>
<path d="M1084.3 220.4 L1081.6 220.6 L1079.6 219.3 L1078.5 217.2 L1078.4 214.5 L1081.0 213.5 L1083.2 214.1 L1085.6 215.3 L1085.6 217.9Z" fill="#fff" opacity="0.28"/>
<path d="M1090.5 226.7 L1090.4 229.0 L1088.5 230.9 L1085.8 230.6 L1083.7 228.6 L1084.9 226.1 L1085.8 224.2 L1087.9 224.0 L1089.8 224.8Z" fill="#fff" opacity="0.28"/>
<path d="M1104.3 224.2 L1104.4 226.7 L1102.1 227.6 L1099.9 228.2 L1098.5 226.3 L1098.4 224.3 L1098.9 222.1 L1101.1 221.0 L1102.8 222.8Z" fill="#fff" opacity="0.28"/>
<path d="M1036.4 241.3 L1040.0 239.9 L1043.6 239.8 L1045.7 242.7 L1046.1 246.0 L1044.3 248.9 L1040.9 250.6 L1037.1 249.1 L1036.4 245.2Z" fill="#fff" opacity="0.2"/>
<path d="M1083.0 245.0 L1082.4 247.9 L1079.4 248.4 L1076.9 248.0 L1075.5 245.7 L1074.7 242.8 L1077.2 240.8 L1079.9 241.4 L1081.9 242.7Z" fill="#fff" opacity="0.2"/>
<path d="M1054.2 233.9 L1053.2 231.0 L1055.1 228.8 L1057.2 227.6 L1060.2 227.3 L1061.6 229.9 L1061.3 232.7 L1059.5 234.7 L1056.6 236.2Z" fill="#fff" opacity="0.2"/>
<path d="M1024.0 240.2 L1022.1 238.0 L1021.6 235.3 L1022.6 232.3 L1025.9 231.0 L1028.4 233.2 L1029.3 235.7 L1029.6 238.7 L1026.8 239.7Z" fill="#fff" opacity="0.2"/>
<path d="M1080.2 260.6 L1078.4 263.0 L1076.1 264.9 L1073.5 263.6 L1071.1 261.8 L1071.9 258.9 L1073.9 257.4 L1076.2 257.3 L1078.7 257.9Z" fill="#fff" opacity="0.2"/>
<path d="M1058.8 252.9 L1062.0 253.3 L1064.9 253.4 L1065.9 256.2 L1065.7 259.0 L1063.2 260.2 L1060.6 260.4 L1058.2 258.9 L1057.0 255.9Z" fill="#fff" opacity="0.2"/>
<path d="M1127.8 251.4 L1125.0 253.8 L1121.0 253.5 L1119.9 249.8 L1120.0 246.9 L1120.9 243.2 L1124.9 242.3 L1127.7 245.0 L1127.9 248.2Z" fill="#fff" opacity="0.2"/>
<path d="M1094.0 170.0 L1095.5 173.4 L1092.9 176.3 L1089.4 177.8 L1086.8 175.2 L1084.2 172.8 L1086.1 169.7 L1088.4 167.5 L1092.0 166.8Z" fill="#fff" opacity="0.28"/>
<path d="M1111.4 270.7 L1113.2 272.5 L1113.5 275.2 L1111.9 277.6 L1109.1 277.9 L1107.0 276.3 L1105.9 274.0 L1106.0 271.0 L1108.7 269.0Z" fill="#fff" opacity="0.2"/>
<path d="M1136.7 269.7 L1134.7 273.4 L1130.7 272.7 L1126.4 272.9 L1126.3 268.6 L1126.1 264.8 L1129.5 262.6 L1133.6 262.8 L1135.7 266.0Z" fill="#fff" opacity="0.2"/>
<path d="M1252.2 176.4 L1252.0 173.4 L1253.2 170.7 L1256.1 170.1 L1258.8 171.1 L1259.4 173.7 L1259.9 176.6 L1257.4 178.3 L1254.7 177.8Z" fill="#fff" opacity="0.28"/>
<path d="M1254.3 186.2 L1256.7 187.8 L1257.3 190.3 L1257.1 192.9 L1254.8 193.8 L1252.5 193.6 L1250.4 192.3 L1250.7 189.8 L1251.7 187.4Z" fill="#fff" opacity="0.28"/>
<path d="M1238.1 185.5 L1238.2 183.6 L1240.1 183.3 L1242.1 183.0 L1243.4 184.7 L1243.0 186.8 L1241.4 187.7 L1239.7 188.4 L1238.2 187.2Z" fill="#fff" opacity="0.28"/>
<path d="M1255.0 201.9 L1255.8 204.1 L1254.3 206.1 L1251.8 206.1 L1249.7 204.9 L1249.8 202.6 L1249.7 200.2 L1252.1 199.6 L1254.5 199.5Z" fill="#fff" opacity="0.28"/>
<path d="M1259.1 214.2 L1260.2 216.1 L1259.2 218.4 L1256.8 218.1 L1254.9 217.8 L1253.3 216.2 L1254.4 214.2 L1255.5 212.1 L1257.7 212.9Z" fill="#fff" opacity="0.28"/>
<path d="M1250.1 222.8 L1252.1 223.9 L1253.0 226.5 L1250.8 228.0 L1248.7 228.7 L1246.5 228.1 L1245.7 225.9 L1246.6 223.9 L1248.1 222.6Z" fill="#fff" opacity="0.28"/>
<path d="M1235.5 231.2 L1232.7 231.4 L1230.2 230.4 L1230.2 227.7 L1230.1 225.2 L1232.6 224.8 L1235.0 224.5 L1236.8 226.2 L1236.4 228.7Z" fill="#fff" opacity="0.28"/>
<path d="M1255.4 236.0 L1256.4 238.0 L1256.2 240.4 L1253.9 240.8 L1251.6 241.8 L1250.2 239.8 L1250.3 237.6 L1251.1 235.5 L1253.4 235.5Z" fill="#fff" opacity="0.2"/>
<path d="M1177.1 209.6 L1176.0 212.2 L1173.9 214.5 L1170.9 213.6 L1169.4 211.3 L1168.2 208.5 L1170.8 207.0 L1173.3 205.0 L1175.5 207.2Z" fill="#fff" opacity="0.28"/>
<path d="M1152.2 206.5 L1154.9 206.1 L1157.4 206.9 L1158.2 209.3 L1157.3 211.2 L1155.9 212.5 L1153.9 212.7 L1151.7 211.7 L1151.5 209.2Z" fill="#fff" opacity="0.28"/>
<path d="M1156.5 219.5 L1158.5 217.7 L1160.3 216.7 L1162.8 216.7 L1163.3 219.1 L1163.2 221.0 L1162.1 222.8 L1159.9 222.7 L1157.9 221.8Z" fill="#fff" opacity="0.28"/>
<path d="M1184.7 232.0 L1182.2 231.5 L1181.2 229.4 L1180.6 227.0 L1182.4 225.3 L1184.7 225.4 L1187.4 225.7 L1187.3 228.4 L1186.4 230.3Z" fill="#fff" opacity="0.28"/>
<path d="M1150.6 231.5 L1148.3 233.5 L1145.2 233.1 L1143.7 230.7 L1143.6 228.2 L1145.3 226.5 L1147.4 224.8 L1150.0 226.1 L1150.8 228.7Z" fill="#fff" opacity="0.28"/>
<path d="M1166.6 237.9 L1169.4 236.1 L1172.3 237.7 L1172.9 240.7 L1173.4 243.9 L1170.2 244.4 L1167.5 245.2 L1165.6 243.1 L1165.5 240.4Z" fill="#fff" opacity="0.2"/>
<path d="M1188.2 251.6 L1185.2 252.8 L1182.5 254.3 L1179.2 253.1 L1179.6 249.7 L1180.4 247.1 L1182.7 245.0 L1185.8 245.8 L1188.0 248.1Z" fill="#fff" opacity="0.2"/>
<path d="M1203.2 248.7 L1205.2 250.2 L1205.5 252.7 L1203.9 254.4 L1201.7 256.5 L1198.9 255.2 L1197.6 252.4 L1199.3 250.2 L1200.6 247.5Z" fill="#fff" opacity="0.2"/>
<path d="M1206.1 231.0 L1208.3 231.3 L1209.2 233.4 L1208.6 235.4 L1207.2 236.5 L1205.3 236.7 L1204.1 235.4 L1203.3 233.6 L1203.9 231.5Z" fill="#fff" opacity="0.2"/>
<path d="M1223.5 240.6 L1225.9 240.8 L1227.2 242.6 L1227.9 244.6 L1226.7 246.4 L1224.7 247.6 L1222.7 246.4 L1222.0 244.5 L1221.8 242.4Z" fill="#fff" opacity="0.2"/>
<path d="M1174.9 258.7 L1175.8 262.4 L1172.1 263.3 L1169.3 263.9 L1166.9 262.1 L1165.1 259.0 L1166.6 255.3 L1170.3 254.2 L1173.4 256.0Z" fill="#fff" opacity="0.2"/>
<path d="M1196.1 274.2 L1196.9 276.6 L1197.2 279.6 L1194.4 280.9 L1191.4 280.6 L1189.5 278.5 L1188.8 275.4 L1191.2 273.5 L1193.9 272.2Z" fill="#fff" opacity="0.2"/>
<path d="M1247.9 262.3 L1249.9 262.8 L1251.7 263.9 L1251.8 265.9 L1250.6 267.4 L1248.9 267.9 L1247.0 267.6 L1246.6 265.7 L1246.0 263.7Z" fill="#fff" opacity="0.2"/>
<path d="M1204.4 166.0 L1201.8 167.0 L1198.0 167.2 L1197.3 163.5 L1198.4 160.6 L1200.7 159.1 L1203.4 159.2 L1206.7 160.3 L1207.1 163.9Z" fill="#fff" opacity="0.28"/>
<path d="M1182.1 158.4 L1184.4 159.4 L1186.7 160.3 L1186.7 162.8 L1186.0 165.3 L1183.4 166.2 L1180.7 165.3 L1180.6 162.6 L1179.9 160.0Z" fill="#fff" opacity="0.28"/>
<path d="M1242.6 165.5 L1241.6 169.2 L1240.4 171.8 L1237.6 172.7 L1235.0 171.6 L1231.9 169.6 L1232.6 165.8 L1235.6 163.6 L1239.4 163.2Z" fill="#fff" opacity="0.28"/>
<path d="M1153.7 178.5 L1156.2 177.8 L1158.5 178.6 L1161.0 180.3 L1159.7 183.1 L1157.9 185.0 L1155.1 185.3 L1153.5 183.2 L1152.6 180.9Z" fill="#fff" opacity="0.28"/>
<path d="M1175.5 186.6 L1173.7 184.9 L1173.0 182.7 L1173.1 179.9 L1175.8 179.3 L1178.5 179.3 L1179.9 181.6 L1178.9 183.8 L1177.9 185.8Z" fill="#fff" opacity="0.28"/>
<path d="M1216.8 261.2 L1217.3 258.7 L1218.3 256.4 L1220.9 256.1 L1222.7 257.6 L1224.6 259.5 L1222.8 261.4 L1221.4 263.6 L1219.1 262.4Z" fill="#fff" opacity="0.2"/>
<path d="M1237.4 252.6 L1237.3 254.8 L1235.3 256.3 L1233.4 254.7 L1231.7 253.6 L1231.8 251.5 L1232.9 249.5 L1235.2 249.9 L1237.1 250.6Z" fill="#fff" opacity="0.2"/>
<path d="M1220.7 277.7 L1219.8 274.9 L1219.0 271.9 L1221.8 270.7 L1224.2 270.6 L1226.8 271.4 L1227.3 274.3 L1225.6 276.3 L1223.7 278.1Z" fill="#fff" opacity="0.2"/>
<path d="M1212.1 269.9 L1210.3 271.4 L1207.9 271.6 L1206.2 269.9 L1206.2 267.8 L1207.1 266.0 L1209.0 265.2 L1211.4 265.4 L1211.6 267.7Z" fill="#fff" opacity="0.2"/>
<circle cx="1234.7" cy="73.2" r="1.5" fill="#fff" opacity="0.16"/>
<circle cx="1083.1" cy="259.9" r="1.9" fill="#fff" opacity="0.16"/>
<circle cx="1111.3" cy="256.3" r="1.5" fill="#fff" opacity="0.16"/>
<circle cx="1131.1" cy="181.1" r="2.3" fill="#fff" opacity="0.16"/>
<circle cx="1201.9" cy="205.6" r="1.7" fill="#fff" opacity="0.16"/>
<circle cx="1098.5" cy="100.9" r="2.4" fill="#fff" opacity="0.16"/>
<circle cx="1179.9" cy="226.0" r="1.4" fill="#fff" opacity="0.16"/>
<circle cx="1125.7" cy="232.7" r="2.0" fill="#fff" opacity="0.16"/>
<circle cx="1049.9" cy="166.3" r="2.4" fill="#fff" opacity="0.16"/>
<circle cx="1077.0" cy="108.6" r="1.6" fill="#fff" opacity="0.16"/>
<circle cx="1189.8" cy="247.7" r="1.4" fill="#fff" opacity="0.16"/>
<circle cx="1057.1" cy="120.6" r="1.7" fill="#fff" opacity="0.16"/>
<circle cx="1145.9" cy="102.1" r="1.7" fill="#fff" opacity="0.16"/>
<circle cx="1065.2" cy="275.7" r="2.2" fill="#fff" opacity="0.16"/>
<circle cx="1044.0" cy="273.0" r="1.3" fill="#fff" opacity="0.16"/>
<circle cx="1112.5" cy="277.6" r="2.3" fill="#fff" opacity="0.16"/>
<circle cx="1197.1" cy="160.5" r="1.5" fill="#fff" opacity="0.16"/>
<circle cx="1174.0" cy="90.6" r="1.5" fill="#fff" opacity="0.16"/>
<circle cx="1113.5" cy="75.0" r="1.8" fill="#fff" opacity="0.16"/>
<circle cx="1211.1" cy="215.6" r="1.9" fill="#fff" opacity="0.16"/>
<circle cx="1172.7" cy="166.6" r="1.4" fill="#fff" opacity="0.16"/>
<circle cx="1165.7" cy="154.1" r="2.2" fill="#fff" opacity="0.16"/>
<circle cx="1239.5" cy="159.5" r="2.0" fill="#fff" opacity="0.16"/>
<circle cx="1201.0" cy="157.6" r="1.5" fill="#fff" opacity="0.16"/>
<circle cx="1194.4" cy="255.4" r="2.3" fill="#fff" opacity="0.16"/>
<circle cx="1189.1" cy="249.5" r="2.2" fill="#fff" opacity="0.16"/>
<circle cx="1174.9" cy="164.6" r="1.6" fill="#fff" opacity="0.16"/>
<circle cx="1171.7" cy="88.7" r="1.8" fill="#fff" opacity="0.16"/>
<circle cx="1209.0" cy="219.8" r="2.1" fill="#fff" opacity="0.16"/>
<circle cx="1079.9" cy="158.1" r="1.8" fill="#fff" opacity="0.16"/>
<circle cx="1170.0" cy="155.1" r="2.1" fill="#fff" opacity="0.16"/>
<circle cx="1244.9" cy="106.8" r="2.1" fill="#fff" opacity="0.16"/>
<circle cx="1208.0" cy="150.7" r="1.9" fill="#fff" opacity="0.16"/>
<circle cx="1255.6" cy="75.9" r="2.0" fill="#fff" opacity="0.16"/>
<circle cx="1058.3" cy="234.5" r="2.5" fill="#fff" opacity="0.16"/>
<circle cx="1145.2" cy="89.4" r="2.0" fill="#fff" opacity="0.16"/>
<circle cx="1150.5" cy="220.7" r="1.9" fill="#fff" opacity="0.16"/>
<circle cx="1174.3" cy="244.5" r="1.9" fill="#fff" opacity="0.16"/>
<circle cx="1118.8" cy="269.9" r="1.5" fill="#fff" opacity="0.16"/>
<circle cx="1185.3" cy="151.5" r="2.3" fill="#fff" opacity="0.16"/>
<circle cx="1049.0" cy="277.7" r="1.7" fill="#fff" opacity="0.16"/>
<circle cx="1033.0" cy="126.3" r="1.8" fill="#fff" opacity="0.16"/>
<circle cx="1022.5" cy="157.0" r="1.8" fill="#fff" opacity="0.16"/>
<circle cx="1188.6" cy="142.9" r="1.6" fill="#fff" opacity="0.16"/>
<circle cx="1073.7" cy="225.9" r="2.5" fill="#fff" opacity="0.16"/>
<circle cx="1147.1" cy="114.5" r="2.3" fill="#fff" opacity="0.16"/>
<circle cx="1114.4" cy="113.0" r="1.4" fill="#fff" opacity="0.16"/>
<circle cx="1207.6" cy="240.4" r="2.1" fill="#fff" opacity="0.16"/>
<circle cx="1133.1" cy="187.6" r="1.5" fill="#fff" opacity="0.16"/>
<circle cx="1253.0" cy="143.1" r="2.1" fill="#fff" opacity="0.16"/>
<circle cx="1217.8" cy="241.8" r="1.9" fill="#fff" opacity="0.16"/>
<circle cx="1090.7" cy="184.7" r="1.4" fill="#fff" opacity="0.16"/>
<circle cx="1221.5" cy="143.4" r="2.4" fill="#fff" opacity="0.16"/>
<circle cx="1084.2" cy="148.0" r="1.6" fill="#fff" opacity="0.16"/>
<circle cx="1122.6" cy="107.4" r="1.2" fill="#fff" opacity="0.16"/>
<circle cx="1194.3" cy="127.8" r="1.5" fill="#fff" opacity="0.16"/>
<circle cx="1092.5" cy="170.0" r="1.8" fill="#fff" opacity="0.16"/>
<circle cx="1173.8" cy="208.4" r="1.7" fill="#fff" opacity="0.16"/>
<circle cx="1244.5" cy="250.0" r="1.3" fill="#fff" opacity="0.16"/>
<circle cx="1220.1" cy="260.9" r="2.3" fill="#fff" opacity="0.16"/>
<circle cx="1053.3" cy="245.0" r="2.1" fill="#fff" opacity="0.16"/>
<circle cx="1022.9" cy="70.2" r="2.5" fill="#fff" opacity="0.16"/>
<circle cx="1178.4" cy="121.1" r="1.3" fill="#fff" opacity="0.16"/>
<circle cx="1053.9" cy="117.6" r="2.3" fill="#fff" opacity="0.16"/>
<circle cx="1103.3" cy="100.3" r="2.5" fill="#fff" opacity="0.16"/>
<circle cx="1211.3" cy="103.6" r="2.4" fill="#fff" opacity="0.16"/>
<circle cx="1166.8" cy="234.4" r="2.1" fill="#fff" opacity="0.16"/>
<circle cx="1236.1" cy="235.8" r="2.4" fill="#fff" opacity="0.16"/>
<circle cx="1067.2" cy="215.5" r="1.9" fill="#fff" opacity="0.16"/>
<circle cx="1199.2" cy="161.3" r="2.4" fill="#fff" opacity="0.16"/>
<circle cx="1153.9" cy="124.2" r="1.5" fill="#fff" opacity="0.16"/>
<circle cx="1053.1" cy="172.9" r="1.3" fill="#fff" opacity="0.16"/>
<circle cx="1132.6" cy="98.6" r="1.9" fill="#fff" opacity="0.16"/>
<circle cx="1140.1" cy="182.8" r="2.4" fill="#fff" opacity="0.16"/>
<circle cx="1020.9" cy="247.1" r="1.9" fill="#fff" opacity="0.16"/>
<circle cx="1155.7" cy="209.6" r="2.4" fill="#fff" opacity="0.16"/>
<circle cx="1110.2" cy="157.1" r="2.5" fill="#fff" opacity="0.16"/>
<circle cx="1037.6" cy="203.6" r="2.1" fill="#fff" opacity="0.16"/>
<circle cx="1026.2" cy="197.8" r="2.2" fill="#fff" opacity="0.16"/>
<circle cx="1245.2" cy="138.3" r="2.6" fill="#fff" opacity="0.16"/>
<circle cx="1143.1" cy="171.1" r="2.5" fill="#fff" opacity="0.16"/>
<circle cx="1027.5" cy="220.9" r="2.1" fill="#fff" opacity="0.16"/>
<circle cx="1101.4" cy="251.5" r="1.7" fill="#fff" opacity="0.16"/>
<circle cx="1134.4" cy="179.8" r="2.3" fill="#fff" opacity="0.16"/>
<circle cx="1070.4" cy="160.6" r="1.8" fill="#fff" opacity="0.16"/>
<circle cx="1153.7" cy="244.1" r="1.6" fill="#fff" opacity="0.16"/>
<circle cx="1220.0" cy="153.9" r="1.9" fill="#fff" opacity="0.16"/>
<circle cx="1085.2" cy="175.8" r="2.6" fill="#fff" opacity="0.16"/>
<circle cx="1178.0" cy="236.6" r="1.7" fill="#fff" opacity="0.16"/>
<circle cx="1096.2" cy="131.6" r="2.0" fill="#fff" opacity="0.16"/>
<circle cx="1173.2" cy="235.0" r="1.3" fill="#fff" opacity="0.16"/>
<circle cx="1194.5" cy="256.6" r="2.0" fill="#fff" opacity="0.16"/>
<circle cx="1031.4" cy="131.8" r="1.2" fill="#fff" opacity="0.16"/>
<circle cx="1065.4" cy="264.2" r="2.1" fill="#fff" opacity="0.16"/>
<circle cx="1178.9" cy="236.0" r="2.5" fill="#fff" opacity="0.16"/>
<circle cx="1167.6" cy="199.3" r="2.1" fill="#fff" opacity="0.16"/>
<circle cx="1188.2" cy="194.9" r="2.2" fill="#fff" opacity="0.16"/>
<circle cx="1070.8" cy="210.0" r="1.8" fill="#fff" opacity="0.16"/>
<circle cx="1204.2" cy="89.4" r="1.5" fill="#fff" opacity="0.16"/>
<circle cx="1028.3" cy="232.9" r="2.5" fill="#fff" opacity="0.16"/>
<circle cx="1178.3" cy="146.4" r="2.4" fill="#fff" opacity="0.16"/>
<circle cx="1210.0" cy="187.6" r="1.6" fill="#fff" opacity="0.16"/>
<circle cx="1092.5" cy="157.7" r="1.6" fill="#fff" opacity="0.16"/>
<circle cx="1123.7" cy="204.6" r="2.5" fill="#fff" opacity="0.16"/>
<circle cx="1032.5" cy="188.8" r="1.3" fill="#fff" opacity="0.16"/>
<circle cx="1048.1" cy="240.6" r="2.0" fill="#fff" opacity="0.16"/>
<circle cx="1242.1" cy="163.0" r="1.2" fill="#fff" opacity="0.16"/>
<circle cx="1113.2" cy="194.0" r="2.5" fill="#fff" opacity="0.16"/>
<circle cx="1257.1" cy="169.2" r="1.8" fill="#fff" opacity="0.16"/>
<circle cx="1044.0" cy="205.2" r="1.5" fill="#fff" opacity="0.16"/>
<circle cx="1056.1" cy="71.1" r="1.2" fill="#fff" opacity="0.16"/>
<circle cx="1185.1" cy="93.7" r="2.6" fill="#fff" opacity="0.16"/>
<circle cx="1040.7" cy="253.2" r="1.4" fill="#fff" opacity="0.16"/>
<circle cx="1023.6" cy="221.2" r="1.5" fill="#fff" opacity="0.16"/>
<circle cx="1197.2" cy="107.8" r="1.3" fill="#fff" opacity="0.16"/>
<circle cx="1207.0" cy="219.9" r="2.4" fill="#fff" opacity="0.16"/>
<circle cx="1196.3" cy="85.8" r="2.1" fill="#fff" opacity="0.16"/>
<circle cx="1191.3" cy="166.0" r="2.5" fill="#fff" opacity="0.16"/>
<circle cx="1080.9" cy="273.4" r="2.2" fill="#fff" opacity="0.16"/>
<circle cx="1022.1" cy="70.9" r="2.1" fill="#fff" opacity="0.16"/>
</g>
<g filter="url(#bl1)">
<ellipse cx="1134.5" cy="136.8" rx="5" ry="4.2" fill="#5e5e5e" stroke="#2e2e2e" stroke-width="1" opacity="0.92"/>
<ellipse cx="1124.5" cy="147.3" rx="7.5" ry="7" fill="#5e5e5e" stroke="#2e2e2e" stroke-width="1" opacity="0.92"/>
<ellipse cx="1141.6" cy="149.6" rx="7" ry="8" fill="#5e5e5e" stroke="#2e2e2e" stroke-width="1" opacity="0.92"/>
<ellipse cx="1116.8" cy="161" rx="8" ry="7" fill="#5e5e5e" stroke="#2e2e2e" stroke-width="1" opacity="0.92"/>
<ellipse cx="1128" cy="168.7" rx="5.5" ry="6" fill="#5e5e5e" stroke="#2e2e2e" stroke-width="1" opacity="0.92"/>
<ellipse cx="1117.3" cy="178.1" rx="6.5" ry="6.5" fill="#5e5e5e" stroke="#2e2e2e" stroke-width="1" opacity="0.92"/>
<ellipse cx="1208" cy="192" rx="7.5" ry="6.5" fill="#5e5e5e" stroke="#2e2e2e" stroke-width="1" opacity="0.92"/>
<ellipse cx="1225" cy="204.3" rx="7" ry="7" fill="#5e5e5e" stroke="#2e2e2e" stroke-width="1" opacity="0.92"/>
<ellipse cx="1131" cy="268" rx="6.5" ry="6.5" fill="#4c4c4c" stroke="#2a2a2a" stroke-width="1" opacity="0.9"/>
</g>
<rect x="1019.3" y="37.8" width="242.5" height="251.09999999999997" filter="url(#mott)" opacity="0.28" style="mix-blend-mode:overlay"/>
<rect x="1019.3" y="37.8" width="242.5" height="251.09999999999997" filter="url(#noise)" opacity="0.3" style="mix-blend-mode:overlay"/>
<rect x="1019.3" y="281" width="242.5" height="8" fill="#000"/>
<path d="M1115 285.5H1142M1115.5 283.3V287.7M1141.5 283.3V287.7" stroke="#fff" stroke-width="1" fill="none"/>
<text x="1145" y="287.4" font-size="6" fill="#fff" font-weight="bold" textLength="22" lengthAdjust="spacingAndGlyphs">100 nm</text>
</g>
<defs><clipPath id="cpU"><rect x="1269.2" y="43.2" width="236.89999999999986" height="245.7"/></clipPath><linearGradient id="gU" x1="0" y1="0" x2="0" y2="1"><stop offset="0" stop-color="#a8a8a8"/><stop offset="0.28" stop-color="#9c9c9c"/><stop offset="0.55" stop-color="#6a6a6a"/><stop offset="0.8" stop-color="#505050"/><stop offset="1" stop-color="#484848"/></linearGradient><linearGradient id="gU2" x1="0" y1="0" x2="1" y2="0"><stop offset="0" stop-color="#000" stop-opacity="0.2"/><stop offset="0.5" stop-color="#000" stop-opacity="0.06"/><stop offset="0.75" stop-color="#fff" stop-opacity="0.04"/><stop offset="1" stop-color="#fff" stop-opacity="0.08"/></linearGradient></defs>
<g clip-path="url(#cpU)">
<rect x="1269.2" y="43.2" width="236.89999999999986" height="245.7" fill="url(#gU)"/>
<rect x="1269.2" y="43.2" width="236.89999999999986" height="245.7" fill="url(#gU2)"/>
<ellipse cx="1368" cy="165" rx="52" ry="40" fill="#000" opacity="0.66" filter="url(#bl10)"/>
<ellipse cx="1345" cy="150" rx="30" ry="25" fill="#000" opacity="0.4" filter="url(#bl8)"/>
<ellipse cx="1392" cy="212" rx="40" ry="32" fill="#000" opacity="0.5" filter="url(#bl10)"/>
<ellipse cx="1412.5" cy="253" rx="27" ry="30" fill="#000" opacity="1" filter="url(#bl6)"/>
<ellipse cx="1412" cy="256" rx="34" ry="34" fill="#000" opacity="0.7" filter="url(#bl9)"/>
<ellipse cx="1290" cy="232" rx="22" ry="14" fill="#000" opacity="0.6" filter="url(#bl7)"/>
<ellipse cx="1269" cy="130" rx="10" ry="35" fill="#000" opacity="0.6" filter="url(#bl6)"/>
<ellipse cx="1320" cy="225" rx="25" ry="12" fill="#000" opacity="0.35" filter="url(#bl6)"/>
<ellipse cx="1495" cy="190" rx="14" ry="10" fill="#000" opacity="0.3" filter="url(#bl5)"/>
<ellipse cx="1370" cy="80" rx="8" ry="6" fill="#000" opacity="0.25" filter="url(#bl3)"/>
<ellipse cx="1455" cy="130" rx="22" ry="20" fill="#000" opacity="0.25" filter="url(#bl5)"/>
<ellipse cx="1485" cy="66" rx="8" ry="8" fill="#000" opacity="0.3" filter="url(#bl3)"/>
<ellipse cx="1300" cy="270" rx="30" ry="14" fill="#000" opacity="0.2" filter="url(#bl8)"/>
<ellipse cx="1465" cy="238" rx="42" ry="60" fill="#000" opacity="0.24" filter="url(#bl12)"/>
<ellipse cx="1300" cy="188" rx="38" ry="28" fill="#000" opacity="0.28" filter="url(#bl10)"/>
<ellipse cx="1500" cy="45" rx="22" ry="22" fill="#fff" opacity="1" filter="url(#bl5)"/>
<ellipse cx="1490" cy="50" rx="30" ry="14" fill="#fff" opacity="0.7" filter="url(#bl6)"/>
<ellipse cx="1502" cy="80" rx="8" ry="25" fill="#fff" opacity="0.6" filter="url(#bl4)"/>
<ellipse cx="1450" cy="50" rx="40" ry="12" fill="#fff" opacity="0.35" filter="url(#bl6)"/>
<ellipse cx="1465" cy="95" rx="60" ry="45" fill="#fff" opacity="0.28" filter="url(#bl12)"/>
<g filter="url(#blU)">
<path d="M1275.4 59.5 L1275.0 56.5 L1277.5 55.0 L1280.1 54.6 L1282.4 55.9 L1282.5 58.5 L1282.0 60.9 L1279.7 62.3 L1276.9 62.0Z" fill="#fff" opacity="0.5"/>
<path d="M1294.1 51.1 L1292.3 52.1 L1290.0 53.0 L1288.2 51.0 L1288.9 48.7 L1289.1 46.0 L1291.8 45.3 L1294.1 46.8 L1295.1 49.0Z" fill="#fff" opacity="0.5"/>
<path d="M1301.9 58.5 L1300.1 59.7 L1298.4 58.2 L1297.5 56.4 L1298.0 54.4 L1299.8 53.6 L1302.0 53.2 L1303.5 54.9 L1304.2 57.4Z" fill="#fff" opacity="0.5"/>
<path d="M1310.5 56.4 L1312.0 53.9 L1314.6 52.5 L1317.3 53.7 L1318.5 56.1 L1319.3 59.2 L1316.8 61.5 L1313.5 61.5 L1311.1 59.4Z" fill="#fff" opacity="0.5"/>
<path d="M1327.4 57.0 L1325.8 55.6 L1325.9 53.6 L1326.3 51.1 L1328.8 50.9 L1331.3 51.3 L1331.8 53.8 L1332.0 56.5 L1329.7 58.0Z" fill="#fff" opacity="0.5"/>
<path d="M1304.6 70.7 L1304.8 74.3 L1301.3 75.3 L1297.5 75.7 L1296.1 72.2 L1296.8 69.3 L1297.9 66.3 L1301.4 65.4 L1303.8 67.9Z" fill="#fff" opacity="0.5"/>
<path d="M1318.0 80.1 L1316.0 83.3 L1312.2 82.8 L1310.7 79.7 L1310.0 76.9 L1311.7 74.7 L1314.3 73.9 L1317.8 73.7 L1318.2 77.2Z" fill="#fff" opacity="0.5"/>
<path d="M1328.3 78.8 L1330.3 77.1 L1332.9 75.8 L1334.7 78.1 L1336.4 80.4 L1334.6 82.5 L1332.6 84.2 L1330.1 83.3 L1328.5 81.4Z" fill="#fff" opacity="0.5"/>
<path d="M1340.6 62.4 L1339.5 64.6 L1338.2 66.9 L1335.8 65.9 L1334.0 64.8 L1332.9 62.5 L1334.4 60.3 L1336.8 60.3 L1339.4 59.9Z" fill="#fff" opacity="0.5"/>
<path d="M1345.0 72.3 L1342.6 72.7 L1341.4 70.5 L1341.3 68.4 L1342.8 67.0 L1344.7 66.5 L1346.9 66.8 L1347.4 69.1 L1347.2 71.4Z" fill="#fff" opacity="0.5"/>
<path d="M1353.4 74.1 L1351.4 71.8 L1352.8 69.2 L1354.9 67.5 L1357.8 67.3 L1359.0 69.9 L1359.2 72.1 L1358.7 75.0 L1355.7 75.7Z" fill="#fff" opacity="0.5"/>
<path d="M1362.9 60.6 L1360.4 60.5 L1358.8 58.4 L1360.3 56.2 L1361.4 53.8 L1364.2 53.9 L1365.9 55.8 L1366.1 58.2 L1364.7 59.8Z" fill="#fff" opacity="0.5"/>
<path d="M1381.9 55.2 L1379.7 56.7 L1377.7 57.9 L1375.8 56.4 L1374.0 54.6 L1375.0 52.2 L1377.1 51.2 L1379.1 51.5 L1381.3 52.5Z" fill="#fff" opacity="0.5"/>
<path d="M1384.8 68.5 L1383.6 70.4 L1381.0 71.1 L1379.1 69.3 L1379.0 67.0 L1379.2 64.4 L1381.8 64.3 L1383.6 65.0 L1385.0 66.4Z" fill="#fff" opacity="0.5"/>
<path d="M1367.6 63.2 L1367.5 61.6 L1368.4 60.2 L1370.2 59.6 L1371.5 61.0 L1372.3 62.4 L1372.2 64.5 L1370.3 65.7 L1368.2 65.0Z" fill="#fff" opacity="0.5"/>
<path d="M1300.3 84.5 L1302.9 85.2 L1304.6 86.8 L1305.0 89.0 L1305.0 92.1 L1301.9 93.0 L1298.7 92.3 L1298.6 89.1 L1298.0 86.4Z" fill="#fff" opacity="0.5"/>
<path d="M1287.8 87.5 L1288.9 85.4 L1290.4 83.1 L1292.7 84.6 L1294.7 85.6 L1295.2 88.0 L1293.9 90.4 L1291.3 90.9 L1289.0 89.8Z" fill="#fff" opacity="0.5"/>
<path d="M1324.3 101.2 L1326.0 103.6 L1327.2 106.0 L1326.3 108.8 L1323.4 110.1 L1320.9 108.6 L1318.9 106.7 L1319.1 103.7 L1321.4 102.0Z" fill="#fff" opacity="0.5"/>
<path d="M1334.1 92.6 L1335.8 91.5 L1337.9 92.1 L1338.5 94.0 L1339.0 96.0 L1337.7 98.0 L1335.2 98.1 L1333.4 96.6 L1333.3 94.4Z" fill="#fff" opacity="0.5"/>
<path d="M1346.1 84.9 L1348.3 85.7 L1350.2 87.4 L1348.9 89.6 L1348.0 91.9 L1345.7 91.1 L1343.5 90.6 L1343.0 88.2 L1344.2 86.4Z" fill="#fff" opacity="0.5"/>
<path d="M1353.4 99.3 L1356.1 99.1 L1358.6 100.7 L1358.0 103.6 L1356.5 105.2 L1354.5 106.4 L1351.9 106.0 L1351.3 103.4 L1351.8 101.2Z" fill="#fff" opacity="0.5"/>
<path d="M1375.9 86.2 L1376.2 88.9 L1375.6 91.7 L1372.7 92.0 L1370.0 91.8 L1369.2 89.3 L1369.1 86.9 L1370.7 84.5 L1373.7 84.1Z" fill="#fff" opacity="0.5"/>
<path d="M1382.0 90.8 L1383.3 93.1 L1382.1 95.4 L1380.0 96.4 L1377.6 96.7 L1375.3 95.0 L1375.1 92.0 L1377.0 89.8 L1379.8 88.7Z" fill="#fff" opacity="0.5"/>
<path d="M1307.5 125.3 L1305.1 124.5 L1304.5 122.1 L1305.4 119.9 L1307.3 118.4 L1310.0 118.6 L1311.6 120.7 L1311.3 123.3 L1310.2 125.9Z" fill="#fff" opacity="0.5"/>
<path d="M1335.3 119.6 L1334.1 121.9 L1332.2 123.2 L1329.4 124.4 L1328.4 121.5 L1326.9 119.0 L1328.8 116.6 L1331.5 116.3 L1334.5 116.6Z" fill="#fff" opacity="0.5"/>
<path d="M1290.3 125.9 L1289.7 128.0 L1287.6 128.2 L1285.1 128.7 L1284.5 126.2 L1284.9 124.2 L1286.3 123.0 L1288.5 122.0 L1290.2 123.7Z" fill="#fff" opacity="0.5"/>
<path d="M1273.4 136.0 L1276.2 134.6 L1279.4 135.3 L1280.8 138.2 L1279.6 140.8 L1278.1 143.0 L1275.4 142.6 L1273.8 141.0 L1272.4 138.8Z" fill="#fff" opacity="0.5"/>
<path d="M1290.1 140.1 L1292.4 140.3 L1294.1 141.9 L1294.8 144.6 L1293.0 146.6 L1290.4 147.3 L1287.7 146.3 L1287.2 143.5 L1287.4 140.7Z" fill="#fff" opacity="0.5"/>
<path d="M1367.6 103.6 L1369.2 105.3 L1367.9 107.3 L1365.8 107.5 L1363.9 107.3 L1362.5 105.7 L1362.4 103.4 L1364.4 102.3 L1366.5 102.0Z" fill="#fff" opacity="0.5"/>
<path d="M1290.8 99.0 L1292.3 101.9 L1290.7 104.6 L1288.5 106.5 L1285.8 105.4 L1283.3 104.0 L1282.9 100.9 L1285.0 98.6 L1287.9 97.7Z" fill="#fff" opacity="0.5"/>
<path d="M1397.6 52.0 L1394.8 51.7 L1392.8 49.7 L1393.3 47.0 L1394.5 44.8 L1397.0 44.9 L1399.6 45.3 L1400.6 47.8 L1399.2 49.9Z" fill="#fff" opacity="0.62"/>
<path d="M1395.6 64.6 L1393.4 66.6 L1390.2 67.0 L1388.1 64.6 L1388.4 61.8 L1388.6 58.6 L1391.8 58.9 L1395.0 58.6 L1395.6 61.8Z" fill="#fff" opacity="0.62"/>
<path d="M1402.7 69.6 L1401.8 66.9 L1401.8 64.7 L1403.0 62.5 L1405.7 61.7 L1408.3 63.1 L1409.0 65.9 L1408.4 68.8 L1405.5 69.6Z" fill="#fff" opacity="0.62"/>
<path d="M1419.5 49.8 L1419.7 52.0 L1418.4 54.2 L1415.8 54.2 L1413.2 53.4 L1412.5 50.7 L1413.6 48.2 L1415.9 46.4 L1418.6 47.4Z" fill="#fff" opacity="0.62"/>
<path d="M1415.5 67.1 L1413.5 66.1 L1413.1 63.7 L1414.9 62.4 L1416.7 61.0 L1419.0 61.8 L1419.6 64.1 L1419.2 66.1 L1417.3 67.0Z" fill="#fff" opacity="0.62"/>
<path d="M1430.7 57.2 L1432.4 54.0 L1435.9 54.2 L1440.0 53.7 L1440.9 57.7 L1439.9 61.0 L1437.5 64.0 L1433.7 63.2 L1431.1 60.7Z" fill="#fff" opacity="0.62"/>
<path d="M1446.2 60.7 L1448.7 59.8 L1450.8 61.7 L1452.3 64.5 L1450.6 67.5 L1447.5 67.5 L1444.9 67.0 L1444.0 64.5 L1443.9 61.9Z" fill="#fff" opacity="0.62"/>
<path d="M1455.4 51.4 L1457.0 53.9 L1457.0 56.4 L1455.5 58.2 L1453.3 59.6 L1450.4 58.9 L1450.4 55.9 L1450.0 53.2 L1452.7 52.7Z" fill="#fff" opacity="0.62"/>
<path d="M1466.6 64.0 L1463.6 64.8 L1461.7 62.4 L1461.2 59.7 L1462.2 56.8 L1465.2 56.7 L1468.3 56.7 L1468.8 59.7 L1469.0 62.6Z" fill="#fff" opacity="0.62"/>
<path d="M1442.6 51.1 L1440.8 50.8 L1440.0 49.2 L1440.4 47.4 L1441.7 46.2 L1443.6 46.1 L1444.6 47.6 L1444.9 49.1 L1444.5 50.9Z" fill="#fff" opacity="0.62"/>
<path d="M1424.1 72.3 L1426.8 70.7 L1429.6 72.1 L1431.5 74.6 L1430.0 77.3 L1428.4 79.7 L1425.2 79.9 L1422.6 77.9 L1423.1 74.8Z" fill="#fff" opacity="0.62"/>
<path d="M1439.8 77.4 L1438.9 75.3 L1437.6 73.2 L1439.1 71.3 L1441.4 71.6 L1443.1 72.1 L1444.5 73.7 L1443.5 75.6 L1441.9 76.5Z" fill="#fff" opacity="0.62"/>
<path d="M1406.8 81.1 L1410.0 83.6 L1408.5 87.3 L1406.9 90.3 L1403.2 91.6 L1400.9 88.6 L1399.4 85.8 L1399.6 82.0 L1403.0 79.4Z" fill="#fff" opacity="0.62"/>
<path d="M1428.7 90.4 L1429.0 93.5 L1426.7 96.2 L1423.2 95.8 L1420.3 93.9 L1420.7 90.6 L1422.2 88.3 L1424.7 87.3 L1427.1 88.2Z" fill="#fff" opacity="0.62"/>
<path d="M1398.6 98.5 L1399.8 96.8 L1401.8 96.9 L1403.4 97.7 L1404.1 99.4 L1404.2 101.6 L1402.2 103.0 L1399.7 102.6 L1399.1 100.4Z" fill="#fff" opacity="0.62"/>
<path d="M1456.1 94.5 L1453.4 96.2 L1450.5 97.1 L1448.5 94.9 L1447.5 92.4 L1448.4 89.8 L1451.0 88.6 L1453.8 89.0 L1454.6 91.6Z" fill="#fff" opacity="0.62"/>
<path d="M1466.5 90.8 L1469.3 92.1 L1471.5 93.5 L1472.4 96.3 L1470.4 98.5 L1467.8 98.9 L1465.6 97.9 L1463.9 95.9 L1465.2 93.6Z" fill="#fff" opacity="0.62"/>
<path d="M1474.1 82.9 L1474.7 85.1 L1474.0 87.4 L1471.9 88.2 L1469.9 87.5 L1468.4 86.1 L1468.6 84.0 L1469.6 81.8 L1472.1 81.7Z" fill="#fff" opacity="0.62"/>
<path d="M1480.8 96.6 L1478.4 95.4 L1477.2 93.1 L1477.7 90.5 L1480.0 89.5 L1482.6 88.9 L1484.6 90.8 L1484.6 93.4 L1483.3 95.7Z" fill="#fff" opacity="0.62"/>
<path d="M1493.6 88.0 L1496.0 88.6 L1496.1 91.0 L1495.9 93.1 L1494.2 94.5 L1492.2 93.7 L1490.4 92.6 L1489.8 90.3 L1491.3 88.3Z" fill="#fff" opacity="0.62"/>
<path d="M1498.0 82.1 L1495.2 80.9 L1494.0 78.5 L1493.7 75.9 L1495.7 74.0 L1498.4 73.7 L1500.4 75.3 L1502.1 77.8 L1500.4 80.3Z" fill="#fff" opacity="0.62"/>
<path d="M1472.5 69.7 L1476.3 69.4 L1477.5 73.0 L1479.1 75.8 L1477.4 79.0 L1474.0 79.1 L1471.0 78.2 L1470.3 75.3 L1470.6 72.5Z" fill="#fff" opacity="0.62"/>
<path d="M1486.8 106.0 L1485.6 103.9 L1485.3 100.8 L1488.1 99.5 L1491.0 99.8 L1493.7 101.5 L1493.3 104.7 L1492.1 107.7 L1488.8 107.9Z" fill="#fff" opacity="0.62"/>
<path d="M1475.6 109.5 L1478.5 110.8 L1479.4 114.2 L1476.5 116.2 L1474.0 118.9 L1471.4 116.2 L1469.5 113.9 L1470.6 111.0 L1472.6 108.6Z" fill="#fff" opacity="0.62"/>
<path d="M1453.1 108.3 L1454.8 105.6 L1457.6 107.0 L1459.5 109.0 L1459.7 111.9 L1457.6 113.8 L1455.0 114.1 L1452.3 113.3 L1451.4 110.4Z" fill="#fff" opacity="0.62"/>
<path d="M1433.4 120.3 L1431.4 118.2 L1431.1 115.8 L1431.7 113.5 L1433.9 112.7 L1436.2 112.9 L1438.7 114.5 L1438.0 117.4 L1436.6 120.2Z" fill="#fff" opacity="0.62"/>
<path d="M1496.0 122.4 L1499.0 121.9 L1500.6 124.7 L1498.8 127.0 L1497.7 129.7 L1494.9 129.0 L1492.8 127.5 L1491.5 124.8 L1493.9 122.9Z" fill="#fff" opacity="0.62"/>
<path d="M1491.8 114.1 L1492.9 112.5 L1494.6 112.1 L1496.6 112.2 L1497.5 114.0 L1497.0 115.8 L1495.5 116.4 L1493.9 117.0 L1492.6 115.8Z" fill="#fff" opacity="0.62"/>
<path d="M1391.2 97.7 L1389.3 98.1 L1388.2 96.5 L1387.6 94.7 L1388.5 92.7 L1390.7 92.4 L1392.3 93.4 L1393.6 95.0 L1392.9 96.9Z" fill="#fff" opacity="0.62"/>
<path d="M1390.2 123.0 L1392.1 123.6 L1392.8 125.5 L1391.9 127.3 L1390.2 127.7 L1388.8 127.3 L1387.1 126.5 L1387.2 124.6 L1388.5 123.3Z" fill="#fff" opacity="0.62"/>
<path d="M1417.6 111.2 L1416.1 109.7 L1416.6 107.5 L1418.2 106.1 L1420.3 106.0 L1422.2 107.3 L1421.9 109.5 L1421.0 111.1 L1419.3 112.7Z" fill="#fff" opacity="0.62"/>
<path d="M1314.2 184.4 L1313.0 188.3 L1311.6 191.0 L1308.7 192.6 L1305.3 191.7 L1303.0 188.7 L1304.7 185.4 L1306.7 182.4 L1310.2 183.4Z" fill="#fff" opacity="0.14"/>
<path d="M1294.7 215.3 L1292.2 217.0 L1289.3 217.1 L1287.5 214.9 L1286.9 212.2 L1288.6 210.2 L1290.9 209.2 L1293.9 209.6 L1295.5 212.3Z" fill="#fff" opacity="0.14"/>
<path d="M1334.4 219.3 L1333.2 222.1 L1330.1 222.0 L1327.5 220.3 L1327.7 217.4 L1328.6 214.9 L1331.1 214.1 L1334.1 214.1 L1335.1 216.9Z" fill="#fff" opacity="0.14"/>
<path d="M1329.4 248.0 L1333.1 248.4 L1336.2 249.3 L1338.0 252.3 L1337.3 256.0 L1333.9 257.3 L1330.8 256.9 L1329.1 254.4 L1327.3 251.3Z" fill="#fff" opacity="0.14"/>
<path d="M1324.7 267.4 L1323.3 269.7 L1320.4 269.7 L1317.9 268.1 L1318.0 265.3 L1318.6 262.4 L1321.6 262.5 L1323.9 263.0 L1326.0 264.9Z" fill="#fff" opacity="0.14"/>
<path d="M1280.3 271.4 L1278.3 274.2 L1274.7 274.1 L1272.7 271.4 L1272.5 268.6 L1273.5 265.8 L1276.4 263.9 L1279.3 265.7 L1280.4 268.5Z" fill="#fff" opacity="0.14"/>
<path d="M1341.9 270.6 L1345.0 270.3 L1347.4 272.7 L1347.7 276.0 L1345.3 278.0 L1342.5 279.4 L1340.3 277.4 L1339.2 275.0 L1339.8 272.4Z" fill="#fff" opacity="0.14"/>
<path d="M1352.8 251.2 L1352.1 253.6 L1350.9 255.4 L1348.8 256.0 L1346.8 255.0 L1345.9 253.0 L1346.5 250.8 L1348.4 249.9 L1350.7 249.6Z" fill="#fff" opacity="0.14"/>
<path d="M1315.9 246.7 L1318.1 247.9 L1318.4 250.4 L1316.9 252.2 L1315.1 253.8 L1312.5 253.2 L1311.8 250.7 L1312.4 248.8 L1313.5 246.9Z" fill="#fff" opacity="0.14"/>
<path d="M1283.4 181.7 L1284.6 178.7 L1287.9 178.5 L1290.8 179.6 L1290.7 182.6 L1290.8 185.3 L1288.6 187.3 L1286.0 185.9 L1284.4 184.2Z" fill="#fff" opacity="0.14"/>
<path d="M1274.7 189.8 L1276.7 191.5 L1278.6 192.9 L1277.7 195.0 L1276.7 197.2 L1274.1 197.3 L1272.6 195.5 L1272.1 193.5 L1272.4 191.1Z" fill="#fff" opacity="0.14"/>
<path d="M1294.6 260.5 L1296.2 258.6 L1298.3 257.8 L1300.9 257.7 L1302.0 260.2 L1301.4 262.6 L1299.7 264.2 L1297.3 264.6 L1295.2 263.0Z" fill="#fff" opacity="0.14"/>
<path d="M1447.9 192.1 L1449.4 195.4 L1447.3 198.4 L1444.0 200.0 L1440.5 198.7 L1438.6 195.5 L1439.1 191.7 L1441.9 189.1 L1445.6 189.7Z" fill="#fff" opacity="0.14"/>
<path d="M1462.2 182.3 L1463.3 179.9 L1465.8 179.5 L1468.0 180.2 L1468.7 182.3 L1469.2 184.6 L1467.4 186.7 L1464.9 185.9 L1463.4 184.4Z" fill="#fff" opacity="0.14"/>
<path d="M1475.3 176.4 L1472.6 176.0 L1469.7 174.8 L1470.9 171.8 L1471.9 169.5 L1474.3 169.1 L1477.2 169.4 L1478.7 172.0 L1477.1 174.5Z" fill="#fff" opacity="0.14"/>
<path d="M1496.9 202.7 L1494.6 205.7 L1490.6 207.0 L1488.5 203.3 L1487.4 200.5 L1488.5 197.5 L1491.3 195.9 L1494.6 196.6 L1497.7 198.8Z" fill="#fff" opacity="0.14"/>
<path d="M1483.0 209.3 L1485.3 207.7 L1488.2 207.7 L1490.2 209.8 L1491.7 212.9 L1489.1 215.2 L1486.1 216.5 L1482.7 215.6 L1481.8 212.1Z" fill="#fff" opacity="0.14"/>
<path d="M1475.2 223.7 L1472.4 222.4 L1472.0 219.6 L1472.2 217.0 L1474.2 214.7 L1477.0 215.7 L1478.5 217.7 L1478.5 219.9 L1478.2 222.9Z" fill="#fff" opacity="0.14"/>
<path d="M1494.6 217.5 L1496.9 219.0 L1497.4 221.8 L1495.8 224.0 L1493.5 226.2 L1490.6 224.7 L1489.8 222.0 L1490.5 219.7 L1491.8 217.4Z" fill="#fff" opacity="0.14"/>
<path d="M1483.5 248.4 L1482.3 245.7 L1483.1 243.0 L1485.6 242.1 L1487.8 242.2 L1489.7 243.7 L1489.8 246.0 L1489.1 248.8 L1486.2 249.1Z" fill="#fff" opacity="0.14"/>
<path d="M1481.8 259.9 L1485.1 260.0 L1487.7 260.5 L1488.5 263.1 L1489.1 266.0 L1486.3 266.7 L1483.6 268.2 L1481.0 266.2 L1480.5 263.0Z" fill="#fff" opacity="0.14"/>
<path d="M1432.9 174.8 L1431.6 176.7 L1429.3 175.9 L1427.3 174.9 L1426.9 172.7 L1427.6 170.1 L1430.2 169.7 L1432.8 170.2 L1433.3 172.7Z" fill="#fff" opacity="0.14"/>
<path d="M1459.9 170.0 L1462.3 170.8 L1461.9 173.4 L1461.9 176.0 L1459.4 176.2 L1457.1 176.1 L1455.7 174.2 L1456.4 172.0 L1457.3 169.7Z" fill="#fff" opacity="0.14"/>
<path d="M1496.0 237.1 L1494.5 235.1 L1493.8 232.8 L1495.0 230.4 L1497.6 229.1 L1500.0 230.7 L1501.9 233.0 L1500.3 235.4 L1498.7 237.3Z" fill="#fff" opacity="0.14"/>
<path d="M1463.3 231.8 L1463.8 229.1 L1465.8 227.5 L1468.0 228.2 L1470.0 229.0 L1471.0 231.2 L1469.4 233.0 L1467.5 234.3 L1465.3 233.5Z" fill="#fff" opacity="0.14"/>
<path d="M1475.1 250.3 L1473.9 252.4 L1471.7 252.6 L1469.6 252.7 L1468.8 250.8 L1468.8 248.9 L1470.0 247.3 L1472.1 247.4 L1473.7 248.4Z" fill="#fff" opacity="0.14"/>
<circle cx="1316.6" cy="121.3" r="1.7" fill="#fff" opacity="0.25"/>
<circle cx="1493.1" cy="103.3" r="2.2" fill="#fff" opacity="0.25"/>
<circle cx="1302.6" cy="53.3" r="2.1" fill="#fff" opacity="0.25"/>
<circle cx="1437.0" cy="62.4" r="1.8" fill="#fff" opacity="0.25"/>
<circle cx="1467.5" cy="106.5" r="1.3" fill="#fff" opacity="0.25"/>
<circle cx="1322.9" cy="60.0" r="1.4" fill="#fff" opacity="0.25"/>
<circle cx="1365.6" cy="51.0" r="2.5" fill="#fff" opacity="0.25"/>
<circle cx="1370.4" cy="97.8" r="2.1" fill="#fff" opacity="0.25"/>
<circle cx="1450.9" cy="130.9" r="1.7" fill="#fff" opacity="0.25"/>
<circle cx="1347.7" cy="87.2" r="1.2" fill="#fff" opacity="0.25"/>
<circle cx="1456.3" cy="113.7" r="2.1" fill="#fff" opacity="0.25"/>
<circle cx="1273.6" cy="78.6" r="1.7" fill="#fff" opacity="0.25"/>
<circle cx="1423.4" cy="54.6" r="1.7" fill="#fff" opacity="0.25"/>
<circle cx="1414.0" cy="60.1" r="2.3" fill="#fff" opacity="0.25"/>
<circle cx="1483.1" cy="101.8" r="1.7" fill="#fff" opacity="0.25"/>
<circle cx="1387.7" cy="58.3" r="2.2" fill="#fff" opacity="0.25"/>
<circle cx="1503.0" cy="98.3" r="2.2" fill="#fff" opacity="0.25"/>
<circle cx="1467.1" cy="64.3" r="2.5" fill="#fff" opacity="0.25"/>
<circle cx="1417.8" cy="64.3" r="1.3" fill="#fff" opacity="0.25"/>
<circle cx="1327.1" cy="104.8" r="2.2" fill="#fff" opacity="0.25"/>
<circle cx="1378.9" cy="56.4" r="2.6" fill="#fff" opacity="0.25"/>
<circle cx="1301.3" cy="139.8" r="2.0" fill="#fff" opacity="0.25"/>
<circle cx="1402.0" cy="103.0" r="1.6" fill="#fff" opacity="0.25"/>
<circle cx="1484.6" cy="149.2" r="2.3" fill="#fff" opacity="0.25"/>
<circle cx="1411.7" cy="56.3" r="2.4" fill="#fff" opacity="0.25"/>
<circle cx="1399.0" cy="51.3" r="1.2" fill="#fff" opacity="0.25"/>
<circle cx="1311.9" cy="148.6" r="2.5" fill="#fff" opacity="0.25"/>
<circle cx="1425.2" cy="76.1" r="2.1" fill="#fff" opacity="0.25"/>
<circle cx="1444.0" cy="84.0" r="2.0" fill="#fff" opacity="0.25"/>
<circle cx="1459.6" cy="44.9" r="1.5" fill="#fff" opacity="0.25"/>
<circle cx="1380.1" cy="58.5" r="1.7" fill="#fff" opacity="0.25"/>
<circle cx="1404.1" cy="61.7" r="1.9" fill="#fff" opacity="0.25"/>
<circle cx="1331.7" cy="103.9" r="1.7" fill="#fff" opacity="0.25"/>
<circle cx="1421.2" cy="47.2" r="2.1" fill="#fff" opacity="0.25"/>
<circle cx="1303.5" cy="145.7" r="2.0" fill="#fff" opacity="0.25"/>
<circle cx="1380.5" cy="87.1" r="2.1" fill="#fff" opacity="0.25"/>
<circle cx="1432.5" cy="124.2" r="2.3" fill="#fff" opacity="0.25"/>
<circle cx="1471.8" cy="86.9" r="1.8" fill="#fff" opacity="0.25"/>
<circle cx="1393.6" cy="89.4" r="2.5" fill="#fff" opacity="0.25"/>
<circle cx="1345.2" cy="49.0" r="2.2" fill="#fff" opacity="0.25"/>
<circle cx="1482.4" cy="121.4" r="2.0" fill="#fff" opacity="0.25"/>
<circle cx="1447.3" cy="75.7" r="2.0" fill="#fff" opacity="0.25"/>
<circle cx="1285.7" cy="56.5" r="1.8" fill="#fff" opacity="0.25"/>
<circle cx="1388.3" cy="85.6" r="1.3" fill="#fff" opacity="0.25"/>
<circle cx="1433.8" cy="99.4" r="1.5" fill="#fff" opacity="0.25"/>
<circle cx="1341.8" cy="85.4" r="1.5" fill="#fff" opacity="0.25"/>
<circle cx="1285.4" cy="140.5" r="2.6" fill="#fff" opacity="0.25"/>
<circle cx="1426.9" cy="135.7" r="1.8" fill="#fff" opacity="0.25"/>
<circle cx="1460.0" cy="66.9" r="2.2" fill="#fff" opacity="0.25"/>
<circle cx="1456.9" cy="56.4" r="2.0" fill="#fff" opacity="0.25"/>
<circle cx="1494.5" cy="43.3" r="1.5" fill="#fff" opacity="0.25"/>
<circle cx="1340.1" cy="77.9" r="1.3" fill="#fff" opacity="0.25"/>
<circle cx="1481.3" cy="130.3" r="1.8" fill="#fff" opacity="0.25"/>
<circle cx="1353.7" cy="105.7" r="1.3" fill="#fff" opacity="0.25"/>
<circle cx="1276.6" cy="139.2" r="1.6" fill="#fff" opacity="0.25"/>
<circle cx="1381.2" cy="65.3" r="1.6" fill="#fff" opacity="0.25"/>
<circle cx="1487.8" cy="139.0" r="1.5" fill="#fff" opacity="0.25"/>
<circle cx="1467.7" cy="81.0" r="1.9" fill="#fff" opacity="0.25"/>
<circle cx="1309.9" cy="137.2" r="2.6" fill="#fff" opacity="0.25"/>
<circle cx="1317.1" cy="110.7" r="1.5" fill="#fff" opacity="0.25"/>
<circle cx="1477.7" cy="48.5" r="1.3" fill="#fff" opacity="0.25"/>
<circle cx="1441.1" cy="76.6" r="2.5" fill="#fff" opacity="0.25"/>
<circle cx="1475.2" cy="119.4" r="1.4" fill="#fff" opacity="0.25"/>
<circle cx="1434.1" cy="143.4" r="1.8" fill="#fff" opacity="0.25"/>
<circle cx="1287.9" cy="67.0" r="1.6" fill="#fff" opacity="0.25"/>
<circle cx="1437.5" cy="64.2" r="1.5" fill="#fff" opacity="0.25"/>
<circle cx="1325.0" cy="114.2" r="2.3" fill="#fff" opacity="0.25"/>
<circle cx="1408.9" cy="67.7" r="1.6" fill="#fff" opacity="0.25"/>
<circle cx="1488.7" cy="114.4" r="1.6" fill="#fff" opacity="0.25"/>
<circle cx="1420.8" cy="52.8" r="2.6" fill="#fff" opacity="0.25"/>
<circle cx="1373.5" cy="99.6" r="1.9" fill="#fff" opacity="0.25"/>
<circle cx="1279.9" cy="107.2" r="1.6" fill="#fff" opacity="0.25"/>
<circle cx="1335.3" cy="101.7" r="1.5" fill="#fff" opacity="0.25"/>
<circle cx="1481.7" cy="148.7" r="1.2" fill="#fff" opacity="0.25"/>
<circle cx="1489.3" cy="96.6" r="1.5" fill="#fff" opacity="0.25"/>
<circle cx="1400.9" cy="112.1" r="1.7" fill="#fff" opacity="0.25"/>
<circle cx="1425.1" cy="126.8" r="1.9" fill="#fff" opacity="0.25"/>
<circle cx="1453.9" cy="60.8" r="2.1" fill="#fff" opacity="0.25"/>
<circle cx="1325.0" cy="90.2" r="2.3" fill="#fff" opacity="0.25"/>
<circle cx="1455.5" cy="127.7" r="1.5" fill="#fff" opacity="0.25"/>
<circle cx="1385.1" cy="66.8" r="2.0" fill="#fff" opacity="0.25"/>
<circle cx="1387.4" cy="47.0" r="2.0" fill="#fff" opacity="0.25"/>
<circle cx="1438.5" cy="104.4" r="2.4" fill="#fff" opacity="0.25"/>
<circle cx="1311.9" cy="59.4" r="1.2" fill="#fff" opacity="0.25"/>
<circle cx="1386.7" cy="89.6" r="1.8" fill="#fff" opacity="0.25"/>
<circle cx="1484.1" cy="104.0" r="2.0" fill="#fff" opacity="0.25"/>
<circle cx="1456.7" cy="68.6" r="1.4" fill="#fff" opacity="0.25"/>
<circle cx="1342.9" cy="47.7" r="1.6" fill="#fff" opacity="0.25"/>
<circle cx="1416.4" cy="99.3" r="1.6" fill="#fff" opacity="0.25"/>
<circle cx="1408.7" cy="52.6" r="2.3" fill="#fff" opacity="0.25"/>
<circle cx="1309.9" cy="70.4" r="1.4" fill="#fff" opacity="0.25"/>
<circle cx="1432.8" cy="131.9" r="2.3" fill="#fff" opacity="0.25"/>
</g>
<g filter="url(#bl1)">
<ellipse cx="1343" cy="139" rx="5.5" ry="6" fill="#4e4e4e" stroke="#2a2a2a" stroke-width="1.3" opacity="0.9"/>
<ellipse cx="1365" cy="140" rx="6" ry="5.5" fill="#4e4e4e" stroke="#2a2a2a" stroke-width="1.3" opacity="0.9"/>
<ellipse cx="1353" cy="130" rx="6" ry="5" fill="#484848" stroke="#2a2a2a" stroke-width="1.3" opacity="0.9"/>
<ellipse cx="1385.5" cy="147" rx="5.5" ry="8" fill="#5a5a5a" stroke="#2a2a2a" stroke-width="1.3" opacity="0.9"/>
<ellipse cx="1399.5" cy="156" rx="8.5" ry="8" fill="#707070" stroke="#333" stroke-width="1.3" opacity="0.9"/>
<ellipse cx="1400.5" cy="173" rx="11.5" ry="8.5" fill="#333" stroke="#606060" stroke-width="1.3" opacity="0.9"/>
<ellipse cx="1337" cy="154" rx="6" ry="6.5" fill="#505050" stroke="#2a2a2a" stroke-width="1.3" opacity="0.9"/>
<ellipse cx="1349" cy="160" rx="5.5" ry="6" fill="#4e4e4e" stroke="#2a2a2a" stroke-width="1.3" opacity="0.9"/>
<ellipse cx="1338" cy="169" rx="7.5" ry="5.5" fill="#4e4e4e" stroke="#2a2a2a" stroke-width="1.3" opacity="0.9"/>
<ellipse cx="1319" cy="158" rx="5" ry="5" fill="#4a4a4a" stroke="#2a2a2a" stroke-width="1.3" opacity="0.9"/>
<ellipse cx="1377" cy="164" rx="4" ry="4" fill="#4e4e4e" stroke="#2a2a2a" stroke-width="1.3" opacity="0.9"/>
<ellipse cx="1336" cy="195" rx="6" ry="7" fill="#484848" stroke="#2a2a2a" stroke-width="1.3" opacity="0.9"/>
<ellipse cx="1378" cy="186" rx="8.5" ry="6.5" fill="#444" stroke="#2a2a2a" stroke-width="1.3" opacity="0.9"/>
<ellipse cx="1358" cy="209" rx="4" ry="4" fill="#444" stroke="#2a2a2a" stroke-width="1.3" opacity="0.9"/>
<ellipse cx="1440.5" cy="85" rx="5.2" ry="5.2" fill="#d8d8d8" stroke="#888" stroke-width="1.3" opacity="0.9"/>
<ellipse cx="1486" cy="69" rx="4" ry="4" fill="#c8c8c8" stroke="#666" stroke-width="1.3" opacity="0.9"/>
<ellipse cx="1451" cy="251.5" rx="6" ry="7" fill="#666" stroke="#3a3a3a" stroke-width="1.3" opacity="0.9"/>
<ellipse cx="1467" cy="137" rx="14" ry="13.5" fill="#8a8a8a" stroke="#606060" stroke-width="2" opacity="0.85"/>
<path d="M1458 147 Q1468 154 1479 143" fill="none" stroke="#c8c8c8" stroke-width="2.2" opacity="0.9"/>
</g>
<rect x="1269.2" y="43.2" width="236.89999999999986" height="245.7" filter="url(#mott)" opacity="0.28" style="mix-blend-mode:overlay"/>
<rect x="1269.2" y="43.2" width="236.89999999999986" height="245.7" filter="url(#noise)" opacity="0.3" style="mix-blend-mode:overlay"/>
<rect x="1269.2" y="281" width="236.89999999999986" height="8" fill="#000"/>
<path d="M1363 285.5H1388M1363.5 283.3V287.7M1387.5 283.3V287.7" stroke="#fff" stroke-width="1" fill="none"/>
<text x="1392" y="287.4" font-size="6" fill="#fff" font-weight="bold" textLength="22" lengthAdjust="spacingAndGlyphs">100 nm</text>
</g>
<defs><filter id="bb0_8" color-interpolation-filters="sRGB" filterUnits="userSpaceOnUse" x="130" y="440" width="270" height="280"><feGaussianBlur stdDeviation="0.8"/></filter><filter id="bb1" color-interpolation-filters="sRGB" filterUnits="userSpaceOnUse" x="130" y="440" width="270" height="280"><feGaussianBlur stdDeviation="1"/></filter><filter id="bb1_2" color-interpolation-filters="sRGB" filterUnits="userSpaceOnUse" x="130" y="440" width="270" height="280"><feGaussianBlur stdDeviation="1.2"/></filter><filter id="bb1_4" color-interpolation-filters="sRGB" filterUnits="userSpaceOnUse" x="130" y="440" width="270" height="280"><feGaussianBlur stdDeviation="1.4"/></filter><filter id="bb1_5" color-interpolation-filters="sRGB" filterUnits="userSpaceOnUse" x="130" y="440" width="270" height="280"><feGaussianBlur stdDeviation="1.5"/></filter><filter id="bb1_6" color-interpolation-filters="sRGB" filterUnits="userSpaceOnUse" x="130" y="440" width="270" height="280"><feGaussianBlur stdDeviation="1.6"/></filter><filter id="bb2" color-interpolation-filters="sRGB" filterUnits="userSpaceOnUse" x="130" y="440" width="270" height="280"><feGaussianBlur stdDeviation="2"/></filter><filter id="bb2_5" color-interpolation-filters="sRGB" filterUnits="userSpaceOnUse" x="130" y="440" width="270" height="280"><feGaussianBlur stdDeviation="2.5"/></filter><filter id="bb3" color-interpolation-filters="sRGB" filterUnits="userSpaceOnUse" x="130" y="440" width="270" height="280"><feGaussianBlur stdDeviation="3"/></filter></defs>
<text x="144.55" y="407.30" font-size="25" textLength="97.33" lengthAdjust="spacingAndGlyphs" fill="#000" stroke="#000" stroke-width="0.3">exo-free</text>
<text x="156.83" y="437.70" font-size="25" textLength="71.83" lengthAdjust="spacingAndGlyphs" fill="#000" stroke="#000" stroke-width="0.3">media</text>
<text x="277.84" y="407.30" font-size="25" textLength="85.26" lengthAdjust="spacingAndGlyphs" fill="#000" stroke="#000" stroke-width="0.3">plasma</text>
<text x="266.45" y="437.70" font-size="25" textLength="108.73" lengthAdjust="spacingAndGlyphs" fill="#000" stroke="#000" stroke-width="0.3">exosome</text>
<text x="61.54" y="485.60" font-size="25.5" textLength="64.33" lengthAdjust="spacingAndGlyphs" fill="#000" stroke="#000" stroke-width="0.3">CD63</text>
<text x="32.81" y="547.40" font-size="25.5" textLength="90.05" lengthAdjust="spacingAndGlyphs" fill="#000" stroke="#000" stroke-width="0.3">TSG101</text>
<text x="46.05" y="612.90" font-size="25.5" textLength="79.63" lengthAdjust="spacingAndGlyphs" fill="#000" stroke="#000" stroke-width="0.3">HSP70</text>
<text x="68.22" y="678.90" font-size="25.5" textLength="57.19" lengthAdjust="spacingAndGlyphs" fill="#000" stroke="#000" stroke-width="0.3">ALIX</text>
<g filter="url(#bb0_8)">
<rect x="144.9" y="456.4" width="236.1" height="51.60000000000002" fill="#858585" stroke="none" stroke-width="0" />
<rect x="147.4" y="459.0" width="231.1" height="46.40000000000002" fill="#585858" stroke="none" stroke-width="0" />
<rect x="149.6" y="461.4" width="226.7" height="41.800000000000026" fill="#9ca09c" stroke="none" stroke-width="0" />
</g>
<g filter="url(#bb0_8)">
<rect x="144.9" y="520.2" width="236.1" height="51.59999999999991" fill="#858585" stroke="none" stroke-width="0" />
<rect x="147.4" y="522.8000000000001" width="231.1" height="46.399999999999906" fill="#585858" stroke="none" stroke-width="0" />
<rect x="149.6" y="525.2" width="226.7" height="41.79999999999991" fill="#8f8f8f" stroke="none" stroke-width="0" />
</g>
<g filter="url(#bb0_8)">
<rect x="144.9" y="582.3" width="236.1" height="54.30000000000007" fill="#858585" stroke="none" stroke-width="0" />
<rect x="147.4" y="584.9" width="231.1" height="49.100000000000065" fill="#585858" stroke="none" stroke-width="0" />
<rect x="149.6" y="587.3" width="226.7" height="44.50000000000007" fill="#8c8c8c" stroke="none" stroke-width="0" />
</g>
<g filter="url(#bb0_8)">
<rect x="144.9" y="646.4" width="236.1" height="54.60000000000002" fill="#858585" stroke="none" stroke-width="0" />
<rect x="147.4" y="649.0" width="231.1" height="49.40000000000002" fill="#585858" stroke="none" stroke-width="0" />
<rect x="149.6" y="651.4" width="226.7" height="44.800000000000026" fill="#9c9c9c" stroke="none" stroke-width="0" />
</g>
<path d="M182 483.5 L215 482 L250 485" fill="none" stroke="#444" stroke-width="8" stroke-linecap="round" stroke-linejoin="round" opacity="0.4" filter="url(#bb2_5)"/>
<path d="M277 483 L310 484 L352 488" fill="none" stroke="#000" stroke-width="8.5" stroke-linecap="round" stroke-linejoin="round" opacity="0.95" filter="url(#bb2)"/>
<path d="M276 483 L353 488" fill="none" stroke="#000" stroke-width="15" stroke-linecap="round" stroke-linejoin="round" opacity="0.35" filter="url(#bb3)"/>
<path d="M185 541 L200 541" fill="none" stroke="#555" stroke-width="8" stroke-linecap="round" stroke-linejoin="round" opacity="0.2" filter="url(#bb3)"/>
<path d="M276 543.2 L295 545.8 L320 543.5 L356 541.8" fill="none" stroke="#000" stroke-width="7.5" stroke-linecap="round" stroke-linejoin="round" opacity="0.95" filter="url(#bb2)"/>
<path d="M285 546 L305 546.5" fill="none" stroke="#000" stroke-width="7" stroke-linecap="round" stroke-linejoin="round" opacity="0.6" filter="url(#bb2)"/>
<path d="M276 543.5 L356 542" fill="none" stroke="#000" stroke-width="13" stroke-linecap="round" stroke-linejoin="round" opacity="0.35" filter="url(#bb3)"/>
<path d="M180 608 L240 610" fill="none" stroke="#555" stroke-width="10" stroke-linecap="round" stroke-linejoin="round" opacity="0.12" filter="url(#bb3)"/>
<path d="M275 614.3 L290 615 L302 614.5" fill="none" stroke="#000" stroke-width="6.5" stroke-linecap="round" stroke-linejoin="round" opacity="0.92" filter="url(#bb2)"/>
<path d="M302 614.5 L320 612.2" fill="none" stroke="#000" stroke-width="4.5" stroke-linecap="round" stroke-linejoin="round" opacity="0.6" filter="url(#bb1_6)"/>
<path d="M320 611.5 L335 611 L352 611.2" fill="none" stroke="#000" stroke-width="7" stroke-linecap="round" stroke-linejoin="round" opacity="0.92" filter="url(#bb2)"/>
<path d="M275 614 L352 611.5" fill="none" stroke="#000" stroke-width="12" stroke-linecap="round" stroke-linejoin="round" opacity="0.35" filter="url(#bb3)"/>
<path d="M285 601 L350 599" fill="none" stroke="#000" stroke-width="12" stroke-linecap="round" stroke-linejoin="round" opacity="0.15" filter="url(#bb3)"/>
<path d="M275 676 L300 677.5 L330 676.5 L357 675.8" fill="none" stroke="#000" stroke-width="8" stroke-linecap="round" stroke-linejoin="round" opacity="0.95" filter="url(#bb2)"/>
<path d="M275 676.5 L357 676" fill="none" stroke="#000" stroke-width="15" stroke-linecap="round" stroke-linejoin="round" opacity="0.35" filter="url(#bb3)"/>
<path d="M330 662 L355 662" fill="none" stroke="#000" stroke-width="8" stroke-linecap="round" stroke-linejoin="round" opacity="0.15" filter="url(#bb3)"/>
<path d="M160 672 L230 668" fill="none" stroke="#fff" stroke-width="20" stroke-linecap="round" stroke-linejoin="round" opacity="0.12" filter="url(#bb3)"/>
<rect x="144.9" y="456" width="236.2" height="245.2" fill="none" stroke="none" stroke-width="0" filter="url(#noiseC)" style="mix-blend-mode:overlay" opacity="0.08"/>
<text x="660.42" y="419.20" font-size="21" textLength="53.29" lengthAdjust="spacingAndGlyphs" fill="#000" stroke="#000" stroke-width="0.3">C33A</text>
<line x1="524.4" y1="451.2" x2="524.4" y2="671.0" stroke="#000" stroke-width="3.0" stroke-linecap="butt"/>
<line x1="516.1" y1="669.5" x2="848.6" y2="669.5" stroke="#000" stroke-width="3.0" stroke-linecap="butt"/>
<line x1="516.1" y1="669.5" x2="524.4" y2="669.5" stroke="#000" stroke-width="3.0" stroke-linecap="butt"/>
<text x="504.20" y="676.76" font-size="22" textLength="11.50" lengthAdjust="spacingAndGlyphs" fill="#000" stroke="#000" stroke-width="0.3">0</text>
<line x1="516.1" y1="615.3" x2="524.4" y2="615.3" stroke="#000" stroke-width="3.0" stroke-linecap="butt"/>
<text x="503.94" y="622.56" font-size="22" textLength="11.50" lengthAdjust="spacingAndGlyphs" fill="#000" stroke="#000" stroke-width="0.3">1</text>
<line x1="516.1" y1="561.1" x2="524.4" y2="561.1" stroke="#000" stroke-width="3.0" stroke-linecap="butt"/>
<text x="504.15" y="568.47" font-size="22" textLength="11.50" lengthAdjust="spacingAndGlyphs" fill="#000" stroke="#000" stroke-width="0.3">2</text>
<line x1="516.1" y1="506.9" x2="524.4" y2="506.9" stroke="#000" stroke-width="3.0" stroke-linecap="butt"/>
<text x="504.10" y="514.13" font-size="22" textLength="11.50" lengthAdjust="spacingAndGlyphs" fill="#000" stroke="#000" stroke-width="0.3">3</text>
<line x1="516.1" y1="452.7" x2="524.4" y2="452.7" stroke="#000" stroke-width="3.0" stroke-linecap="butt"/>
<text x="503.48" y="459.96" font-size="22" textLength="11.50" lengthAdjust="spacingAndGlyphs" fill="#000" stroke="#000" stroke-width="0.3">4</text>
<line x1="617.3" y1="669.5" x2="617.3" y2="678.1" stroke="#000" stroke-width="3.0" stroke-linecap="butt"/>
<line x1="756.5" y1="669.5" x2="756.5" y2="678.1" stroke="#000" stroke-width="3.0" stroke-linecap="butt"/>
<text x="563.60" y="697.80" font-size="21" textLength="106.97" lengthAdjust="spacingAndGlyphs" fill="#000" stroke="#000" stroke-width="0.3">exo-vector</text>
<text x="683.62" y="697.80" font-size="21" textLength="143.61" lengthAdjust="spacingAndGlyphs" fill="#000" stroke="#000" stroke-width="0.3">exo-circ_PVT1</text>
<text x="475.45" y="666.83" font-size="21" textLength="217.44" lengthAdjust="spacingAndGlyphs" fill="#000" stroke="#000" stroke-width="0.3" transform="rotate(-90 475.45 666.83)">Relative expression of</text>
<text x="500.65" y="607.36" font-size="21" textLength="97.49" lengthAdjust="spacingAndGlyphs" fill="#000" stroke="#000" stroke-width="0.3" transform="rotate(-90 500.65 607.36)">circ_PVT1</text>
<path d="M571 669.5 V615.3 H663.3 V669.5" fill="none" stroke="#ff0a78" stroke-width="3"/>
<path d="M710 669.5 V488.7 H802.8 V669.5" fill="none" stroke="#0000ff" stroke-width="3"/>
<line x1="756.3" y1="467.2" x2="756.3" y2="488" stroke="#0000ff" stroke-width="1.9" stroke-linecap="butt"/>
<line x1="733.3" y1="467.2" x2="779.7" y2="467.2" stroke="#0000ff" stroke-width="1.9" stroke-linecap="round"/>
<text x="743.51" y="472.12" font-size="33.56" fill="#000" stroke="#000" stroke-width="0.3">**</text>
<rect x="1185.6" y="403.3" width="30" height="24.8" fill="none" stroke="#ff0a78" stroke-width="3" />
<rect x="1285.6" y="403.3" width="30" height="24.8" fill="none" stroke="#0000ff" stroke-width="3" />
<text x="1009.47" y="464.20" font-size="25" textLength="129.00" lengthAdjust="spacingAndGlyphs" fill="#000" stroke="#000" stroke-width="0.3">E-cadherin</text>
<text x="1031.06" y="507.10" font-size="25" textLength="104.88" lengthAdjust="spacingAndGlyphs" fill="#000" stroke="#000" stroke-width="0.3">Vimentin</text>
<text x="1008.36" y="553.70" font-size="25" textLength="130.40" lengthAdjust="spacingAndGlyphs" fill="#000" stroke="#000" stroke-width="0.3">N-cadherin</text>
<text x="1057.00" y="595.40" font-size="25" textLength="75.21" lengthAdjust="spacingAndGlyphs" fill="#000" stroke="#000" stroke-width="0.3">SNAIL</text>
<text x="1045.45" y="642.00" font-size="25" textLength="90.47" lengthAdjust="spacingAndGlyphs" fill="#000" stroke="#000" stroke-width="0.3">GAPDH</text>
<defs><filter id="be0_8" color-interpolation-filters="sRGB" filterUnits="userSpaceOnUse" x="1140" y="435" width="220" height="225"><feGaussianBlur stdDeviation="0.8"/></filter><filter id="be1" color-interpolation-filters="sRGB" filterUnits="userSpaceOnUse" x="1140" y="435" width="220" height="225"><feGaussianBlur stdDeviation="1"/></filter><filter id="be1_2" color-interpolation-filters="sRGB" filterUnits="userSpaceOnUse" x="1140" y="435" width="220" height="225"><feGaussianBlur stdDeviation="1.2"/></filter><filter id="be1_4" color-interpolation-filters="sRGB" filterUnits="userSpaceOnUse" x="1140" y="435" width="220" height="225"><feGaussianBlur stdDeviation="1.4"/></filter><filter id="be1_5" color-interpolation-filters="sRGB" filterUnits="userSpaceOnUse" x="1140" y="435" width="220" height="225"><feGaussianBlur stdDeviation="1.5"/></filter><filter id="be1_6" color-interpolation-filters="sRGB" filterUnits="userSpaceOnUse" x="1140" y="435" width="220" height="225"><feGaussianBlur stdDeviation="1.6"/></filter><filter id="be2" color-interpolation-filters="sRGB" filterUnits="userSpaceOnUse" x="1140" y="435" width="220" height="225"><feGaussianBlur stdDeviation="2"/></filter><filter id="be2_5" color-interpolation-filters="sRGB" filterUnits="userSpaceOnUse" x="1140" y="435" width="220" height="225"><feGaussianBlur stdDeviation="2.5"/></filter><filter id="be3" color-interpolation-filters="sRGB" filterUnits="userSpaceOnUse" x="1140" y="435" width="220" height="225"><feGaussianBlur stdDeviation="3"/></filter></defs>
<line x1="1147.5" y1="524.3" x2="1350" y2="524.3" stroke="#b8b8b8" stroke-width="1.3" stroke-linecap="butt"/>
<line x1="1147.5" y1="600" x2="1350" y2="600" stroke="#c8c8c8" stroke-width="1.3" stroke-linecap="butt"/>
<line x1="1147.5" y1="611.2" x2="1350" y2="611.2" stroke="#b0b0b0" stroke-width="1.3" stroke-linecap="butt"/>
<line x1="1147.5" y1="653" x2="1350" y2="653" stroke="#a8a8a8" stroke-width="1.3" stroke-linecap="butt"/>
<rect x="1145.7" y="440.6" width="206.2" height="32.599999999999966" fill="#000" stroke="none" stroke-width="0" />
<rect x="1148.6" y="443.5" width="200.4" height="26.799999999999965" fill="#9c9e9c" stroke="none" stroke-width="0" />
<rect x="1145.7" y="480" width="206.2" height="32.700000000000045" fill="#000" stroke="none" stroke-width="0" />
<rect x="1148.6" y="482.9" width="200.4" height="26.900000000000045" fill="#b2b2b2" stroke="none" stroke-width="0" />
<rect x="1145.7" y="525.7" width="206.2" height="32.89999999999998" fill="#000" stroke="none" stroke-width="0" />
<rect x="1148.6" y="528.6" width="200.4" height="27.099999999999977" fill="#ababab" stroke="none" stroke-width="0" />
<rect x="1145.7" y="567" width="206.2" height="31.299999999999955" fill="#000" stroke="none" stroke-width="0" />
<rect x="1148.6" y="569.9" width="200.4" height="25.499999999999954" fill="#adadad" stroke="none" stroke-width="0" />
<rect x="1145.7" y="613.6" width="206.2" height="30.299999999999955" fill="#000" stroke="none" stroke-width="0" />
<rect x="1148.6" y="616.5" width="200.4" height="24.499999999999954" fill="#a6a6a6" stroke="none" stroke-width="0" />
<path d="M1160.0 457.3 L1162.6 456.2 L1165.3 455.7 L1167.9 455.3 L1170.6 455.1 L1173.2 454.8 L1175.9 454.7 L1178.5 454.5 L1181.1 454.4 L1183.8 454.3 L1186.4 454.3 L1189.1 454.2 L1191.7 454.2 L1194.4 454.2 L1197.0 454.3 L1199.6 454.4 L1202.3 454.5 L1204.9 454.6 L1207.6 454.8 L1210.2 454.9 L1212.9 455.0 L1215.5 455.2 L1218.1 455.3 L1220.8 455.5 L1223.4 455.7 L1226.1 456.0 L1228.7 456.4 L1231.4 456.9 L1234.0 458.0 L1234.0 458.0 L1231.4 459.3 L1228.7 459.9 L1226.1 460.4 L1223.4 460.8 L1220.8 461.2 L1218.1 461.5 L1215.5 461.8 L1212.9 462.0 L1210.2 462.2 L1207.6 462.3 L1204.9 462.4 L1202.3 462.4 L1199.6 462.3 L1197.0 462.3 L1194.4 462.2 L1191.7 462.1 L1189.1 462.0 L1186.4 461.8 L1183.8 461.6 L1181.1 461.4 L1178.5 461.1 L1175.9 460.8 L1173.2 460.5 L1170.6 460.1 L1167.9 459.7 L1165.3 459.2 L1162.6 458.6 L1160.0 457.3Z" fill="#000" opacity="0.95" filter="url(#be1_2)"/>
<path d="M1164 457.5 L1230 458" fill="none" stroke="#000" stroke-width="10" stroke-linecap="round" stroke-linejoin="round" opacity="0.3" filter="url(#be3)"/>
<path d="M1262.0 457.0 L1264.7 456.1 L1267.4 455.7 L1270.0 455.4 L1272.7 455.1 L1275.4 454.9 L1278.1 454.7 L1280.8 454.5 L1283.4 454.4 L1286.1 454.2 L1288.8 454.1 L1291.5 454.0 L1294.1 453.9 L1296.8 453.9 L1299.5 453.9 L1302.2 453.8 L1304.9 453.8 L1307.5 453.9 L1310.2 453.9 L1312.9 454.0 L1315.6 454.1 L1318.2 454.2 L1320.9 454.3 L1323.6 454.5 L1326.3 454.6 L1329.0 454.9 L1331.6 455.1 L1334.3 455.5 L1337.0 456.3 L1337.0 456.3 L1334.3 457.1 L1331.6 457.5 L1329.0 457.9 L1326.3 458.1 L1323.6 458.4 L1320.9 458.6 L1318.2 458.7 L1315.6 458.9 L1312.9 459.0 L1310.2 459.1 L1307.5 459.2 L1304.9 459.3 L1302.2 459.3 L1299.5 459.4 L1296.8 459.4 L1294.1 459.4 L1291.5 459.4 L1288.8 459.3 L1286.1 459.3 L1283.4 459.2 L1280.8 459.1 L1278.1 459.0 L1275.4 458.8 L1272.7 458.6 L1270.0 458.4 L1267.4 458.1 L1264.7 457.8 L1262.0 457.0Z" fill="#000" opacity="0.55" filter="url(#be1_4)"/>
<path d="M1267 456.8 L1332 456.3" fill="none" stroke="#000" stroke-width="8" stroke-linecap="round" stroke-linejoin="round" opacity="0.12" filter="url(#be3)"/>
<path d="M1159.0 501.8 L1161.9 501.0 L1164.7 500.6 L1167.6 500.2 L1170.4 500.0 L1173.3 499.7 L1176.1 499.5 L1179.0 499.4 L1181.9 499.2 L1184.7 499.1 L1187.6 498.8 L1190.4 498.6 L1193.3 498.3 L1196.1 498.1 L1199.0 497.9 L1201.9 497.7 L1204.7 497.5 L1207.6 497.6 L1210.4 497.7 L1213.3 497.8 L1216.1 497.9 L1219.0 498.1 L1221.9 498.2 L1224.7 498.4 L1227.6 498.7 L1230.4 498.9 L1233.3 499.2 L1236.1 499.7 L1239.0 500.5 L1239.0 500.5 L1236.1 501.3 L1233.3 501.7 L1230.4 501.9 L1227.6 502.1 L1224.7 502.3 L1221.9 502.5 L1219.0 502.6 L1216.1 502.7 L1213.3 502.8 L1210.4 502.8 L1207.6 502.9 L1204.7 502.9 L1201.9 503.2 L1199.0 503.4 L1196.1 503.6 L1193.3 503.7 L1190.4 503.9 L1187.6 504.0 L1184.7 504.1 L1181.9 504.0 L1179.0 503.9 L1176.1 503.8 L1173.3 503.6 L1170.4 503.4 L1167.6 503.2 L1164.7 503.0 L1161.9 502.6 L1159.0 501.8Z" fill="#000" opacity="0.65" filter="url(#be1_4)"/>
<path d="M1164 501.5 L1235 500.5" fill="none" stroke="#000" stroke-width="8" stroke-linecap="round" stroke-linejoin="round" opacity="0.12" filter="url(#be3)"/>
<path d="M1258.0 500.0 L1260.9 498.7 L1263.7 498.2 L1266.6 497.7 L1269.4 497.4 L1272.3 497.1 L1275.1 496.9 L1278.0 496.7 L1280.9 496.6 L1283.7 496.5 L1286.6 496.1 L1289.4 495.6 L1292.3 495.1 L1295.1 494.7 L1298.0 494.3 L1300.9 493.9 L1303.7 493.5 L1306.6 493.5 L1309.4 493.7 L1312.3 493.9 L1315.1 494.1 L1318.0 494.4 L1320.9 494.7 L1323.7 495.1 L1326.6 495.5 L1329.4 495.9 L1332.3 496.5 L1335.1 497.2 L1338.0 498.6 L1338.0 498.6 L1335.1 499.9 L1332.3 500.4 L1329.4 500.8 L1326.6 501.2 L1323.7 501.4 L1320.9 501.7 L1318.0 501.8 L1315.1 502.0 L1312.3 502.1 L1309.4 502.2 L1306.6 502.2 L1303.7 502.4 L1300.9 502.9 L1298.0 503.3 L1295.1 503.7 L1292.3 504.0 L1289.4 504.3 L1286.6 504.6 L1283.7 504.7 L1280.9 504.4 L1278.0 504.2 L1275.1 503.9 L1272.3 503.5 L1269.4 503.1 L1266.6 502.6 L1263.7 502.1 L1260.9 501.4 L1258.0 500.0Z" fill="#000" opacity="0.97" filter="url(#be1_2)"/>
<path d="M1264 499.5 L1333 498.5" fill="none" stroke="#000" stroke-width="10" stroke-linecap="round" stroke-linejoin="round" opacity="0.25" filter="url(#be3)"/>
<path d="M1158.0 541.3 L1160.8 540.6 L1163.6 540.2 L1166.4 539.9 L1169.1 539.7 L1171.9 539.6 L1174.7 539.5 L1177.5 539.4 L1180.3 539.1 L1183.1 538.6 L1185.9 538.3 L1188.6 538.0 L1191.4 537.7 L1194.2 537.4 L1197.0 537.2 L1199.8 537.0 L1202.6 537.0 L1205.4 537.1 L1208.1 537.2 L1210.9 537.3 L1213.7 537.4 L1216.5 537.6 L1219.3 537.9 L1222.1 538.2 L1224.9 538.5 L1227.6 538.9 L1230.4 539.3 L1233.2 539.9 L1236.0 540.8 L1236.0 540.8 L1233.2 541.8 L1230.4 542.5 L1227.6 543.0 L1224.9 543.5 L1222.1 544.0 L1219.3 544.4 L1216.5 544.7 L1213.7 545.0 L1210.9 545.3 L1208.1 545.5 L1205.4 545.7 L1202.6 545.9 L1199.8 546.0 L1197.0 546.2 L1194.2 546.4 L1191.4 546.5 L1188.6 546.6 L1185.9 546.6 L1183.1 546.7 L1180.3 546.6 L1177.5 546.5 L1174.7 546.0 L1171.9 545.4 L1169.1 544.8 L1166.4 544.1 L1163.6 543.3 L1160.8 542.5 L1158.0 541.3Z" fill="#000" opacity="0.95" filter="url(#be1_2)"/>
<path d="M1163 541.5 L1231 541" fill="none" stroke="#000" stroke-width="11" stroke-linecap="round" stroke-linejoin="round" opacity="0.25" filter="url(#be3)"/>
<path d="M1259.0 538.8 L1261.9 538.2 L1264.9 538.1 L1267.8 538.1 L1270.7 538.2 L1273.6 538.3 L1276.6 538.5 L1279.5 538.8 L1282.4 538.4 L1285.4 537.8 L1288.3 537.3 L1291.2 536.9 L1294.1 536.5 L1297.1 536.2 L1300.0 535.9 L1302.9 535.8 L1305.9 535.7 L1308.8 535.6 L1311.7 535.6 L1314.6 535.6 L1317.6 535.7 L1320.5 535.9 L1323.4 536.1 L1326.4 536.3 L1329.3 536.6 L1332.2 537.0 L1335.1 537.4 L1338.1 538.0 L1341.0 539.0 L1341.0 539.0 L1338.1 540.4 L1335.1 541.3 L1332.2 542.0 L1329.3 542.8 L1326.4 543.4 L1323.4 544.0 L1320.5 544.5 L1317.6 545.0 L1314.6 545.4 L1311.7 545.8 L1308.8 546.2 L1305.9 546.5 L1302.9 546.7 L1300.0 546.9 L1297.1 547.1 L1294.1 547.3 L1291.2 547.5 L1288.3 547.6 L1285.4 547.6 L1282.4 547.6 L1279.5 547.4 L1276.6 546.4 L1273.6 545.4 L1270.7 544.3 L1267.8 543.2 L1264.9 541.9 L1261.9 540.6 L1259.0 538.8Z" fill="#000" opacity="0.97" filter="url(#be1_2)"/>
<path d="M1264 540 L1335 540" fill="none" stroke="#000" stroke-width="12" stroke-linecap="round" stroke-linejoin="round" opacity="0.25" filter="url(#be3)"/>
<path d="M1155.0 588.2 L1157.9 587.3 L1160.8 586.8 L1163.7 586.4 L1166.6 586.1 L1169.5 585.8 L1172.4 585.6 L1175.2 585.3 L1178.1 585.1 L1181.0 584.9 L1183.9 584.7 L1186.8 584.6 L1189.7 584.5 L1192.6 584.3 L1195.5 584.3 L1198.4 584.2 L1201.3 584.1 L1204.2 584.1 L1207.1 584.1 L1210.0 584.1 L1212.9 584.3 L1215.8 584.5 L1218.6 584.7 L1221.5 585.0 L1224.4 585.3 L1227.3 585.6 L1230.2 586.0 L1233.1 586.5 L1236.0 587.4 L1236.0 587.4 L1233.1 588.1 L1230.2 588.4 L1227.3 588.6 L1224.4 588.8 L1221.5 588.9 L1218.6 589.0 L1215.8 589.0 L1212.9 589.1 L1210.0 589.1 L1207.1 589.3 L1204.2 589.4 L1201.3 589.6 L1198.4 589.7 L1195.5 589.8 L1192.6 589.8 L1189.7 589.9 L1186.8 589.9 L1183.9 589.9 L1181.0 589.9 L1178.1 589.9 L1175.2 589.9 L1172.4 589.8 L1169.5 589.7 L1166.6 589.6 L1163.7 589.4 L1160.8 589.2 L1157.9 588.9 L1155.0 588.2Z" fill="#000" opacity="0.55" filter="url(#be1_4)"/>
<path d="M1160 588 L1231 587.3" fill="none" stroke="#000" stroke-width="8" stroke-linecap="round" stroke-linejoin="round" opacity="0.12" filter="url(#be3)"/>
<path d="M1259.0 587.4 L1262.0 586.0 L1264.9 585.5 L1267.9 585.0 L1270.9 584.7 L1273.8 584.4 L1276.8 584.1 L1279.8 584.0 L1282.7 583.8 L1285.7 583.6 L1288.6 583.3 L1291.6 583.0 L1294.6 582.7 L1297.5 582.5 L1300.5 582.3 L1303.5 582.2 L1306.4 582.0 L1309.4 581.9 L1312.4 582.1 L1315.3 582.2 L1318.3 582.5 L1321.2 582.8 L1324.2 583.1 L1327.2 583.4 L1330.1 583.8 L1333.1 584.3 L1336.1 584.8 L1339.0 585.5 L1342.0 587.0 L1342.0 587.0 L1339.0 588.4 L1336.1 589.0 L1333.1 589.4 L1330.1 589.8 L1327.2 590.1 L1324.2 590.4 L1321.2 590.6 L1318.3 590.8 L1315.3 590.9 L1312.4 591.0 L1309.4 591.1 L1306.4 591.4 L1303.5 591.6 L1300.5 591.8 L1297.5 592.0 L1294.6 592.1 L1291.6 592.2 L1288.6 592.3 L1285.7 592.3 L1282.7 592.1 L1279.8 591.8 L1276.8 591.5 L1273.8 591.1 L1270.9 590.7 L1267.9 590.2 L1264.9 589.6 L1262.0 588.9 L1259.0 587.4Z" fill="#000" opacity="0.97" filter="url(#be1_2)"/>
<path d="M1265 587.5 L1336 587" fill="none" stroke="#000" stroke-width="11" stroke-linecap="round" stroke-linejoin="round" opacity="0.25" filter="url(#be3)"/>
<path d="M1158.0 629.8 L1161.1 628.5 L1164.1 627.9 L1167.2 627.5 L1170.3 627.1 L1173.4 626.8 L1176.4 626.6 L1179.5 626.4 L1182.6 626.3 L1185.6 626.1 L1188.7 625.9 L1191.8 625.6 L1194.9 625.4 L1197.9 625.2 L1201.0 625.1 L1204.1 625.0 L1207.1 624.9 L1210.2 624.9 L1213.3 625.3 L1216.4 625.7 L1219.4 626.1 L1222.5 626.6 L1225.6 627.1 L1228.6 627.6 L1231.7 627.6 L1234.8 627.7 L1237.9 627.8 L1240.9 628.1 L1244.0 629.2 L1244.0 629.2 L1240.9 631.0 L1237.9 632.0 L1234.8 632.8 L1231.7 633.6 L1228.6 634.3 L1225.6 634.5 L1222.5 634.5 L1219.4 634.4 L1216.4 634.4 L1213.3 634.3 L1210.2 634.1 L1207.1 634.3 L1204.1 634.5 L1201.0 634.6 L1197.9 634.7 L1194.9 634.8 L1191.8 634.8 L1188.7 634.8 L1185.6 634.8 L1182.6 634.6 L1179.5 634.3 L1176.4 633.9 L1173.4 633.6 L1170.3 633.1 L1167.2 632.6 L1164.1 632.0 L1161.1 631.3 L1158.0 629.8Z" fill="#000" opacity="0.95" filter="url(#be1_2)"/>
<path d="M1238 629 L1258 627.5" fill="none" stroke="#000" stroke-width="3" stroke-linecap="round" stroke-linejoin="round" opacity="0.6" filter="url(#be1_5)"/>
<path d="M1250.0 627.2 L1253.1 626.1 L1256.3 625.6 L1259.4 625.4 L1262.6 625.2 L1265.7 625.0 L1268.9 624.9 L1272.0 624.9 L1275.1 624.9 L1278.3 624.4 L1281.4 624.0 L1284.6 623.6 L1287.7 623.2 L1290.9 622.9 L1294.0 622.6 L1297.1 622.3 L1300.3 622.1 L1303.4 622.0 L1306.6 622.0 L1309.7 622.0 L1312.9 622.1 L1316.0 622.1 L1319.1 622.3 L1322.3 622.4 L1325.4 622.7 L1328.6 622.9 L1331.7 623.3 L1334.9 623.8 L1338.0 625.0 L1338.0 625.0 L1334.9 626.5 L1331.7 627.2 L1328.6 627.8 L1325.4 628.3 L1322.3 628.8 L1319.1 629.2 L1316.0 629.6 L1312.9 629.9 L1309.7 630.2 L1306.6 630.5 L1303.4 630.7 L1300.3 630.9 L1297.1 631.2 L1294.0 631.6 L1290.9 631.8 L1287.7 632.1 L1284.6 632.3 L1281.4 632.5 L1278.3 632.6 L1275.1 632.7 L1272.0 632.3 L1268.9 631.9 L1265.7 631.4 L1262.6 630.8 L1259.4 630.3 L1256.3 629.6 L1253.1 628.8 L1250.0 627.2Z" fill="#000" opacity="0.95" filter="url(#be1_2)"/>
<path d="M1163 630 L1332 626" fill="none" stroke="#000" stroke-width="11" stroke-linecap="round" stroke-linejoin="round" opacity="0.22" filter="url(#be3)"/>
<rect x="1085.3" y="678.2" width="19.8" height="13.7" fill="none" stroke="#ff0a78" stroke-width="2.4" />
<rect x="1085.3" y="706.3" width="19.8" height="13.5" fill="none" stroke="#0000ff" stroke-width="2.4" />
<text x="1115.16" y="691.10" font-size="17.3" textLength="141.78" lengthAdjust="spacingAndGlyphs" fill="#000" stroke="#000" stroke-width="0.3">exo-vector_C33A</text>
<text x="1115.16" y="719.20" font-size="17.3" textLength="169.07" lengthAdjust="spacingAndGlyphs" fill="#000" stroke="#000" stroke-width="0.3">exo-circ_PVT1-C33A</text>
<line x1="1077.4" y1="732.25" x2="1077.4" y2="916.85" stroke="#000" stroke-width="2.7" stroke-linecap="butt"/>
<line x1="1070.2" y1="915.5" x2="1458.8" y2="915.5" stroke="#000" stroke-width="2.7" stroke-linecap="butt"/>
<line x1="1070.2" y1="915.5" x2="1077.4" y2="915.5" stroke="#000" stroke-width="2.7" stroke-linecap="butt"/>
<text x="1045.17" y="921.76" font-size="18.5" textLength="24.18" lengthAdjust="spacingAndGlyphs" fill="#000" stroke="#000" stroke-width="0.3">0.0</text>
<line x1="1070.2" y1="870.025" x2="1077.4" y2="870.025" stroke="#000" stroke-width="2.7" stroke-linecap="butt"/>
<text x="1044.96" y="876.28" font-size="18.5" textLength="24.18" lengthAdjust="spacingAndGlyphs" fill="#000" stroke="#000" stroke-width="0.3">0.5</text>
<line x1="1070.2" y1="824.55" x2="1077.4" y2="824.55" stroke="#000" stroke-width="2.7" stroke-linecap="butt"/>
<text x="1045.17" y="830.81" font-size="18.5" textLength="24.18" lengthAdjust="spacingAndGlyphs" fill="#000" stroke="#000" stroke-width="0.3">1.0</text>
<line x1="1070.2" y1="779.075" x2="1077.4" y2="779.075" stroke="#000" stroke-width="2.7" stroke-linecap="butt"/>
<text x="1044.96" y="785.24" font-size="18.5" textLength="24.18" lengthAdjust="spacingAndGlyphs" fill="#000" stroke="#000" stroke-width="0.3">1.5</text>
<line x1="1070.2" y1="733.6" x2="1077.4" y2="733.6" stroke="#000" stroke-width="2.7" stroke-linecap="butt"/>
<text x="1045.17" y="739.86" font-size="18.5" textLength="24.18" lengthAdjust="spacingAndGlyphs" fill="#000" stroke="#000" stroke-width="0.3">2.0</text>
<text x="1039.25" y="879.61" font-size="18" textLength="114.78" lengthAdjust="spacingAndGlyphs" fill="#000" stroke="#000" stroke-width="0.3" transform="rotate(-90 1039.25 879.61)">Relative Level</text>
<line x1="1120" y1="915.5" x2="1120" y2="922.5" stroke="#000" stroke-width="2.7" stroke-linecap="butt"/>
<text x="1073.06" y="938.80" font-size="17.5" textLength="94.28" lengthAdjust="spacingAndGlyphs" fill="#000" stroke="#000" stroke-width="0.3">E-Cadherin</text>
<path d="M1089.6 915.5 V824.6 H1114 V915.5" fill="none" stroke="#ff0a78" stroke-width="2.5"/>
<path d="M1126.5 915.5 V878.4 H1150.8 V915.5" fill="none" stroke="#0000ff" stroke-width="2.5"/>
<text x="1134.05" y="882.21" font-size="23.36" fill="#000" stroke="#000" stroke-width="0.3">*</text>
<line x1="1218.5" y1="915.5" x2="1218.5" y2="922.5" stroke="#000" stroke-width="2.7" stroke-linecap="butt"/>
<text x="1181.52" y="938.80" font-size="17.5" textLength="74.08" lengthAdjust="spacingAndGlyphs" fill="#000" stroke="#000" stroke-width="0.3">Vimentin</text>
<path d="M1188.1 915.5 V824.6 H1212.5 V915.5" fill="none" stroke="#ff0a78" stroke-width="2.5"/>
<path d="M1225.0 915.5 V747.2 H1249.3 V915.5" fill="none" stroke="#0000ff" stroke-width="2.5"/>
<line x1="1237.1" y1="742.8769" x2="1237.1" y2="747.2425000000001" stroke="#0000ff" stroke-width="1.6" stroke-linecap="butt"/>
<line x1="1230.5" y1="742.8769" x2="1243.7" y2="742.8769" stroke="#0000ff" stroke-width="1.6" stroke-linecap="round"/>
<text x="1231.81" y="746.79" font-size="27.11" fill="#000" stroke="#000" stroke-width="0.3">*</text>
<line x1="1316.6" y1="915.5" x2="1316.6" y2="922.5" stroke="#000" stroke-width="2.7" stroke-linecap="butt"/>
<text x="1270.36" y="938.80" font-size="17.5" textLength="92.47" lengthAdjust="spacingAndGlyphs" fill="#000" stroke="#000" stroke-width="0.3">N-cadherin</text>
<path d="M1286.1999999999998 915.5 V824.6 H1310.6 V915.5" fill="none" stroke="#ff0a78" stroke-width="2.5"/>
<path d="M1323.1 915.5 V765.6 H1347.3999999999999 V915.5" fill="none" stroke="#0000ff" stroke-width="2.5"/>
<line x1="1335.1999999999998" y1="761.0669" x2="1335.1999999999998" y2="765.6144" stroke="#0000ff" stroke-width="1.6" stroke-linecap="butt"/>
<line x1="1328.6" y1="761.0669" x2="1341.8" y2="761.0669" stroke="#0000ff" stroke-width="1.6" stroke-linecap="round"/>
<text x="1329.81" y="764.16" font-size="27.65" fill="#000" stroke="#000" stroke-width="0.3">*</text>
<line x1="1415.2" y1="915.5" x2="1415.2" y2="922.5" stroke="#000" stroke-width="2.7" stroke-linecap="butt"/>
<text x="1388.72" y="938.80" font-size="17.5" textLength="52.55" lengthAdjust="spacingAndGlyphs" fill="#000" stroke="#000" stroke-width="0.3">SNAIL</text>
<path d="M1384.8 915.5 V824.6 H1409.2 V915.5" fill="none" stroke="#ff0a78" stroke-width="2.5"/>
<path d="M1421.7 915.5 V747.2 H1446.0 V915.5" fill="none" stroke="#0000ff" stroke-width="2.5"/>
<line x1="1433.8" y1="742.8769" x2="1433.8" y2="747.2425000000001" stroke="#0000ff" stroke-width="1.6" stroke-linecap="butt"/>
<line x1="1427.2" y1="742.8769" x2="1440.4" y2="742.8769" stroke="#0000ff" stroke-width="1.6" stroke-linecap="round"/>
<text x="1428.46" y="745.78" font-size="27.38" fill="#000" stroke="#000" stroke-width="0.3">*</text>
</svg>
</body></html>
